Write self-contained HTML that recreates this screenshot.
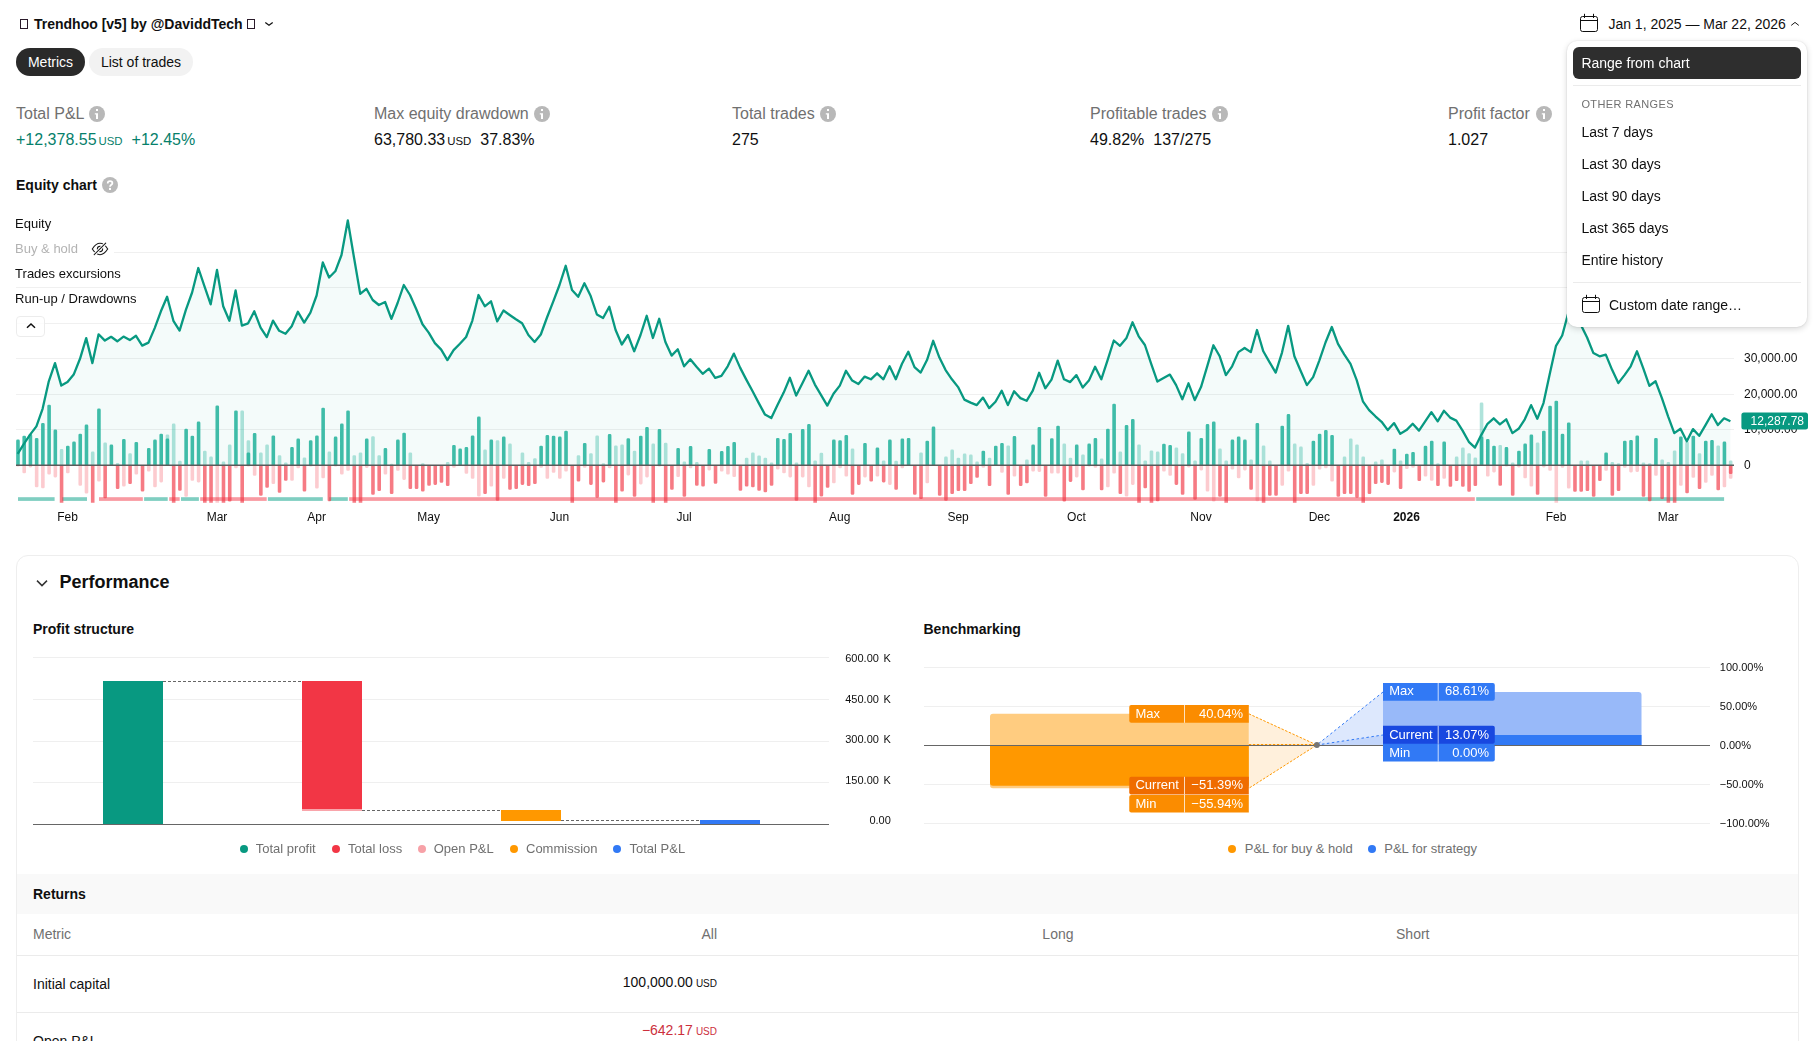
<!DOCTYPE html>
<html lang="en"><head><meta charset="utf-8"><title>Strategy report</title>
<style>
html,body{margin:0;padding:0;background:#fff;}
body{width:1815px;height:1041px;position:relative;overflow:hidden;font-family:"Liberation Sans",sans-serif;color:#0f0f0f;}
.t{position:absolute;white-space:nowrap;line-height:20px;}
.abs{position:absolute;}
svg{position:absolute;overflow:visible;}
.gl{will-change:transform;}
.pill{position:absolute;top:48px;height:28px;border-radius:14px;font-size:14px;line-height:28px;text-align:center;}
.sep{position:absolute;height:1px;background:#ebebeb;}
.menu{position:absolute;left:1567px;top:41px;width:240px;height:286px;border-radius:10px;background:#fff;box-shadow:0 2px 6px rgba(0,0,0,.16),0 0 2px rgba(0,0,0,.12);}
.card{position:absolute;left:16px;top:555px;width:1783px;height:520px;box-sizing:border-box;border:1px solid #eeeeee;border-radius:12px;}
.dot{position:absolute;width:8px;height:8px;border-radius:50%;}
</style></head><body>

<svg style="left:19px;top:18px" width="11" height="13" viewBox="0 0 11 13"><rect x="1.5" y="1.5" width="7" height="9" fill="none" stroke="#2a1a2a" stroke-width="1"/></svg>
<div class="t " style="top:14.00px;font-size:14px;color:#0f0f0f;font-weight:700;left:34.00px;">Trendhoo [v5] by @DaviddTech</div>
<svg style="left:246px;top:18px" width="11" height="13" viewBox="0 0 11 13"><rect x="1.5" y="1.5" width="7" height="9" fill="none" stroke="#2a1a2a" stroke-width="1"/></svg>
<svg style="left:264px;top:20px" width="10" height="8" viewBox="0 0 10 8"><path d="M1.3 2.5 L5 5.3 L8.7 2.5" fill="none" stroke="#0f0f0f" stroke-width="1.2"/></svg>
<svg style="left:1579px;top:13px" width="20" height="20" viewBox="0 0 20 20"><rect x="1.5" y="3.5" width="17" height="15" rx="2.1" fill="none" stroke="#0f0f0f" stroke-width="1"/><path d="M1.5 7.5H18.5M5.5 1.2V4.6M14.5 1.2V4.6" fill="none" stroke="#0f0f0f" stroke-width="1" stroke-linecap="round"/></svg>
<div class="t " style="top:14.00px;font-size:14px;color:#0f0f0f;left:1608.40px;">Jan 1, 2025 — Mar 22, 2026</div>
<svg style="left:1790px;top:20px" width="10" height="8" viewBox="0 0 10 8"><path d="M1.2 5.4 L5 2.4 L8.8 5.4" fill="none" stroke="#1a1a1a" stroke-width="1"/></svg>
<div class="pill" style="left:16px;width:69px;background:#2a2a2a;color:#fff">Metrics</div>
<div class="pill" style="left:89px;width:104px;background:#f2f2f2;color:#0f0f0f">List of trades</div>
<div class="t " style="top:103.50px;font-size:16px;color:#707070;left:16.00px;">Total P&amp;L</div>
<svg width="16" height="16" viewBox="0 0 16 16" style="left:89px;top:106px"><circle cx="8" cy="8" r="8" fill="#b8b8b8"/><path d="M7 3H9V5H7ZM5.8 7.2H9V13H7V8.4H5.8Z" fill="#fff"/></svg>
<div class="t " style="top:103.50px;font-size:16px;color:#707070;left:374.00px;">Max equity drawdown</div>
<svg width="16" height="16" viewBox="0 0 16 16" style="left:533.5px;top:106px"><circle cx="8" cy="8" r="8" fill="#b8b8b8"/><path d="M7 3H9V5H7ZM5.8 7.2H9V13H7V8.4H5.8Z" fill="#fff"/></svg>
<div class="t " style="top:103.50px;font-size:16px;color:#707070;left:732.00px;">Total trades</div>
<svg width="16" height="16" viewBox="0 0 16 16" style="left:819.5px;top:106px"><circle cx="8" cy="8" r="8" fill="#b8b8b8"/><path d="M7 3H9V5H7ZM5.8 7.2H9V13H7V8.4H5.8Z" fill="#fff"/></svg>
<div class="t " style="top:103.50px;font-size:16px;color:#707070;left:1090.00px;">Profitable trades</div>
<svg width="16" height="16" viewBox="0 0 16 16" style="left:1211.5px;top:106px"><circle cx="8" cy="8" r="8" fill="#b8b8b8"/><path d="M7 3H9V5H7ZM5.8 7.2H9V13H7V8.4H5.8Z" fill="#fff"/></svg>
<div class="t " style="top:103.50px;font-size:16px;color:#707070;left:1448.00px;">Profit factor</div>
<svg width="16" height="16" viewBox="0 0 16 16" style="left:1535.5px;top:106px"><circle cx="8" cy="8" r="8" fill="#b8b8b8"/><path d="M7 3H9V5H7ZM5.8 7.2H9V13H7V8.4H5.8Z" fill="#fff"/></svg>
<div class="t " style="top:129.50px;font-size:16px;color:#06806b;left:16.00px;">+12,378.55<span style="font-size:11.4px;margin-left:2px">USD</span><span style="margin-left:9px">+12.45%</span></div>
<div class="t " style="top:129.50px;font-size:16px;color:#0f0f0f;left:374.00px;">63,780.33<span style="font-size:11.4px;margin-left:2px">USD</span><span style="margin-left:9px">37.83%</span></div>
<div class="t " style="top:129.50px;font-size:16px;color:#0f0f0f;left:732.00px;">275</div>
<div class="t " style="top:129.50px;font-size:16px;color:#0f0f0f;left:1090.00px;">49.82%<span style="margin-left:9px">137/275</span></div>
<div class="t " style="top:129.50px;font-size:16px;color:#0f0f0f;left:1448.00px;">1.027</div>
<div class="t " style="top:175.00px;font-size:14px;color:#0f0f0f;font-weight:700;left:16.00px;">Equity chart</div>
<svg width="16" height="16" viewBox="0 0 16 16" style="left:102px;top:177px"><circle cx="8" cy="8" r="8" fill="#b9b9b9"/><path d="M5.7 6.4C5.7 4.9 6.8 4.2 8 4.2S10.4 4.9 10.4 6.2C10.4 7.8 8 7.7 8 9.7" fill="none" stroke="#fff" stroke-width="1.7"/><rect x="7" y="10.9" width="2" height="2.1" fill="#fff"/></svg>
<svg class="gl" style="left:0;top:200px" width="1815" height="340" viewBox="0 200 1815 340">
<defs><clipPath id="cd"><rect x="0" y="465.05" width="1815" height="37.7"/></clipPath></defs>
<path d="M114 252.5H1734" stroke="#f0f0f0" stroke-width="1"/>
<path d="M16 287.5H1734" stroke="#f0f0f0" stroke-width="1"/>
<path d="M16 323.5H1734" stroke="#f0f0f0" stroke-width="1"/>
<path d="M16 358.5H1734" stroke="#f0f0f0" stroke-width="1"/>
<path d="M16 394.5H1734" stroke="#f0f0f0" stroke-width="1"/>
<path d="M16 429.5H1734" stroke="#f0f0f0" stroke-width="1"/>
<path d="M17.7 453.9 L23.9 443.9 L30.1 434.6 L36.4 426.4 L42.6 408.8 L48.8 381.3 L55.0 363.1 L61.3 385.6 L67.5 382.1 L73.7 374.6 L80.0 358.8 L86.2 338.1 L92.4 363.1 L98.6 334.3 L104.9 340.6 L111.1 336.8 L117.3 341.3 L123.5 336.6 L129.8 340.1 L136.0 335.8 L142.2 345.6 L148.5 342.6 L154.7 328.1 L160.9 311.3 L167.1 296.8 L173.4 320.8 L179.6 330.6 L185.8 310.1 L192.1 292.5 L198.3 268.0 L204.5 286.3 L210.7 304.3 L217.0 270.0 L223.2 306.3 L229.4 320.8 L235.6 290.5 L241.9 325.6 L248.1 323.3 L254.3 311.3 L260.6 327.6 L266.8 337.1 L273.0 320.6 L279.2 330.8 L285.5 333.8 L291.7 326.3 L297.9 311.8 L304.2 322.6 L310.4 312.6 L316.6 295.5 L322.8 262.5 L329.1 277.5 L335.3 271.3 L341.5 255.0 L347.8 220.5 L354.0 257.5 L360.2 293.8 L366.4 288.8 L372.7 300.0 L378.9 305.0 L385.1 302.0 L391.4 318.8 L397.6 303.0 L403.8 285.0 L410.0 295.0 L416.3 309.3 L422.5 324.3 L428.7 332.6 L434.9 343.1 L441.2 349.6 L447.4 360.1 L453.6 350.1 L459.9 343.8 L466.1 337.0 L472.3 320.8 L478.5 295.0 L484.8 306.3 L491.0 301.3 L497.2 321.3 L503.5 310.5 L509.7 315.0 L515.9 319.3 L522.1 323.3 L528.4 335.0 L534.6 342.0 L540.8 334.5 L547.0 317.5 L553.3 301.3 L559.5 285.0 L565.7 265.8 L572.0 290.0 L578.2 296.8 L584.4 283.3 L590.6 295.8 L596.9 314.5 L603.1 318.0 L609.3 306.8 L615.6 330.0 L621.8 344.5 L628.0 335.0 L634.2 351.3 L640.5 335.0 L646.7 315.8 L652.9 338.0 L659.2 318.8 L665.4 342.0 L671.6 355.6 L677.8 349.3 L684.1 366.3 L690.3 359.3 L696.5 366.8 L702.7 373.8 L709.0 368.6 L715.2 377.8 L721.4 375.8 L727.7 366.3 L733.9 353.6 L740.1 367.6 L746.3 379.6 L752.6 391.3 L758.8 403.1 L765.0 414.6 L771.3 418.1 L777.5 405.1 L783.7 392.6 L789.9 377.8 L796.2 395.6 L802.4 383.3 L808.6 370.8 L814.9 384.6 L821.1 395.1 L827.3 405.6 L833.5 393.8 L839.8 385.6 L846.0 370.8 L852.2 380.6 L858.4 384.1 L864.7 376.6 L870.9 379.3 L877.1 373.3 L883.4 379.3 L889.6 366.3 L895.8 379.3 L902.0 363.8 L908.3 351.8 L914.5 367.1 L920.7 372.6 L927.0 360.1 L933.2 340.8 L939.4 357.6 L945.6 370.1 L951.9 379.3 L958.1 387.1 L964.3 399.6 L970.6 402.6 L976.8 405.1 L983.0 397.6 L989.2 408.1 L995.5 401.8 L1001.7 390.8 L1007.9 405.1 L1014.1 391.3 L1020.4 398.1 L1026.6 400.8 L1032.8 390.6 L1039.1 372.8 L1045.3 388.3 L1051.5 379.6 L1057.7 360.6 L1064.0 379.3 L1070.2 382.1 L1076.4 375.1 L1082.7 387.6 L1088.9 380.6 L1095.1 366.8 L1101.3 379.3 L1107.6 360.1 L1113.8 340.5 L1120.0 345.8 L1126.3 338.3 L1132.5 322.3 L1138.7 336.3 L1144.9 345.0 L1151.2 363.8 L1157.4 381.6 L1163.6 378.1 L1169.9 374.6 L1176.1 385.1 L1182.3 399.3 L1188.5 383.3 L1194.8 400.1 L1201.0 387.1 L1207.2 366.3 L1213.4 345.3 L1219.7 356.3 L1225.9 375.1 L1232.1 366.3 L1238.4 352.1 L1244.6 348.0 L1250.8 352.1 L1257.0 330.0 L1263.3 351.3 L1269.5 362.1 L1275.7 372.6 L1282.0 352.6 L1288.2 325.8 L1294.4 356.3 L1300.6 370.8 L1306.9 385.1 L1313.1 377.1 L1319.3 360.6 L1325.5 342.5 L1331.8 327.0 L1338.0 343.8 L1344.2 354.3 L1350.5 363.8 L1356.7 380.1 L1362.9 401.3 L1369.1 410.1 L1375.4 416.3 L1381.6 421.8 L1387.8 430.1 L1394.1 423.1 L1400.3 433.8 L1406.5 430.1 L1412.7 423.8 L1419.0 430.6 L1425.2 421.3 L1431.4 412.1 L1437.7 421.3 L1443.9 410.8 L1450.1 417.6 L1456.3 420.6 L1462.6 430.6 L1468.8 441.8 L1475.0 447.6 L1481.2 435.1 L1487.5 423.8 L1493.7 418.3 L1499.9 424.3 L1506.2 419.3 L1512.4 433.1 L1518.6 428.8 L1524.8 419.3 L1531.1 405.1 L1537.3 418.8 L1543.5 403.1 L1549.8 373.8 L1556.0 345.8 L1562.2 335.5 L1568.4 312.5 L1574.7 311.3 L1580.9 325.0 L1587.1 337.5 L1593.4 353.1 L1599.6 356.3 L1605.8 354.6 L1612.0 369.6 L1618.3 383.1 L1624.5 375.1 L1630.7 366.3 L1637.0 351.3 L1643.2 368.1 L1649.4 385.8 L1655.6 381.3 L1661.9 398.1 L1668.1 416.3 L1674.3 433.1 L1680.5 428.8 L1686.8 441.3 L1693.0 429.1 L1699.2 435.8 L1705.5 425.1 L1711.7 414.3 L1717.9 425.1 L1724.1 418.3 L1730.4 421.3 L1730.4 465.05 L17.7 465.05 Z" fill="rgba(8,153,129,0.045)"/>
<g><path fill="rgba(38,180,157,0.37)" d="M59.77 465.05V450.4Q59.77 449.1 61.07 449.1H62.07Q63.37 449.1 63.37 450.4V465.05ZM90.91 465.05V452.9Q90.91 451.6 92.21 451.6H93.21Q94.51 451.6 94.51 452.9V465.05ZM103.36 465.05V443.7Q103.36 442.4 104.66 442.4H105.66Q106.96 442.4 106.96 443.7V465.05ZM115.82 465.05V464.2Q115.82 462.9 117.12 462.9H118.12Q119.42 462.9 119.42 464.2V465.05ZM128.27 465.05V454.5Q128.27 453.2 129.57 453.2H130.57Q131.87 453.2 131.87 454.5V465.05ZM165.64 465.05V435.7Q165.64 434.4 166.94 434.4H167.94Q169.24 434.4 169.24 435.7V465.05ZM171.87 465.05V424.9Q171.87 423.6 173.17 423.6H174.17Q175.47 423.6 175.47 424.9V465.05ZM178.10 465.05V462.0Q178.10 460.7 179.40 460.7H180.40Q181.70 460.7 181.70 462.0V465.05ZM203.01 465.05V452.0Q203.01 450.7 204.31 450.7H205.31Q206.61 450.7 206.61 452.0V465.05ZM209.24 465.05V457.9Q209.24 456.6 210.54 456.6H211.54Q212.84 456.6 212.84 457.9V465.05ZM221.69 465.05V462.9Q221.69 461.6 222.99 461.6H223.99Q225.29 461.6 225.29 462.9V465.05ZM227.92 465.05V445.9Q227.92 444.6 229.22 444.6H230.22Q231.52 444.6 231.52 445.9V465.05ZM240.38 465.05V411.8Q240.38 410.5 241.68 410.5H242.68Q243.98 410.5 243.98 411.8V465.05ZM246.61 465.05V441.6Q246.61 440.3 247.91 440.3H248.91Q250.21 440.3 250.21 441.6V465.05ZM259.06 465.05V453.7Q259.06 452.4 260.36 452.4H261.36Q262.66 452.4 262.66 453.7V465.05ZM265.29 465.05V445.7Q265.29 444.4 266.59 444.4H267.59Q268.89 444.4 268.89 445.7V465.05ZM277.75 465.05V456.5Q277.75 455.2 279.05 455.2H280.05Q281.35 455.2 281.35 456.5V465.05ZM283.97 465.05V463.7Q283.97 462.4 285.27 462.4H286.27Q287.57 462.4 287.57 463.7V465.05ZM302.66 465.05V458.7Q302.66 457.4 303.96 457.4H304.96Q306.26 457.4 306.26 458.7V465.05ZM327.57 465.05V452.9Q327.57 451.6 328.87 451.6H329.87Q331.17 451.6 331.17 452.9V465.05ZM352.48 465.05V456.5Q352.48 455.2 353.78 455.2H354.78Q356.08 455.2 356.08 456.5V465.05ZM358.71 465.05V453.7Q358.71 452.4 360.01 452.4H361.01Q362.31 452.4 362.31 453.7V465.05ZM371.17 465.05V437.6Q371.17 436.3 372.47 436.3H373.47Q374.77 436.3 374.77 437.6V465.05ZM377.39 465.05V456.5Q377.39 455.2 378.69 455.2H379.69Q380.99 455.2 380.99 456.5V465.05ZM389.85 465.05V465.1Q389.85 463.8 391.15 463.8H392.15Q393.45 463.8 393.45 465.1V465.05ZM408.53 465.05V453.7Q408.53 452.4 409.83 452.4H410.83Q412.13 452.4 412.13 453.7V465.05ZM420.99 465.05V464.5Q420.99 463.2 422.29 463.2H423.29Q424.59 463.2 424.59 464.5V465.05ZM445.90 465.05V463.4Q445.90 462.1 447.20 462.1H448.20Q449.50 462.1 449.50 463.4V465.05ZM483.27 465.05V450.7Q483.27 449.4 484.57 449.4H485.57Q486.87 449.4 486.87 450.7V465.05ZM495.73 465.05V441.6Q495.73 440.3 497.03 440.3H498.03Q499.33 440.3 499.33 441.6V465.05ZM508.18 465.05V444.9Q508.18 443.6 509.48 443.6H510.48Q511.78 443.6 511.78 444.9V465.05ZM520.64 465.05V453.7Q520.64 452.4 521.94 452.4H522.94Q524.24 452.4 524.24 453.7V465.05ZM526.87 465.05V463.4Q526.87 462.1 528.17 462.1H529.17Q530.47 462.1 530.47 463.4V465.05ZM533.09 465.05V459.5Q533.09 458.2 534.39 458.2H535.39Q536.69 458.2 536.69 459.5V465.05ZM576.69 465.05V456.5Q576.69 455.2 577.99 455.2H578.99Q580.29 455.2 580.29 456.5V465.05ZM589.15 465.05V454.5Q589.15 453.2 590.45 453.2H591.45Q592.75 453.2 592.75 454.5V465.05ZM595.37 465.05V436.7Q595.37 435.4 596.67 435.4H597.67Q598.97 435.4 598.97 436.7V465.05ZM601.60 465.05V464.5Q601.60 463.2 602.90 463.2H603.90Q605.20 463.2 605.20 464.5V465.05ZM614.06 465.05V446.7Q614.06 445.4 615.36 445.4H616.36Q617.66 445.4 617.66 446.7V465.05ZM620.29 465.05V445.7Q620.29 444.4 621.59 444.4H622.59Q623.89 444.4 623.89 445.7V465.05ZM632.74 465.05V452.0Q632.74 450.7 634.04 450.7H635.04Q636.34 450.7 636.34 452.0V465.05ZM651.43 465.05V444.9Q651.43 443.6 652.73 443.6H653.73Q655.03 443.6 655.03 444.9V465.05ZM663.88 465.05V444.1Q663.88 442.8 665.18 442.8H666.18Q667.48 442.8 667.48 444.1V465.05ZM682.57 465.05V462.9Q682.57 461.6 683.87 461.6H684.87Q686.17 461.6 686.17 462.9V465.05ZM695.02 465.05V463.4Q695.02 462.1 696.32 462.1H697.32Q698.62 462.1 698.62 463.4V465.05ZM744.85 465.05V459.0Q744.85 457.7 746.15 457.7H747.15Q748.45 457.7 748.45 459.0V465.05ZM751.07 465.05V453.7Q751.07 452.4 752.37 452.4H753.37Q754.67 452.4 754.67 453.7V465.05ZM757.30 465.05V456.7Q757.30 455.4 758.60 455.4H759.60Q760.90 455.4 760.90 456.7V465.05ZM763.53 465.05V459.0Q763.53 457.7 764.83 457.7H765.83Q767.13 457.7 767.13 459.0V465.05ZM769.76 465.05V463.7Q769.76 462.4 771.06 462.4H772.06Q773.36 462.4 773.36 463.7V465.05ZM794.67 465.05V463.7Q794.67 462.4 795.97 462.4H796.97Q798.27 462.4 798.27 463.7V465.05ZM813.35 465.05V461.7Q813.35 460.4 814.65 460.4H815.65Q816.95 460.4 816.95 461.7V465.05ZM819.58 465.05V454.0Q819.58 452.7 820.88 452.7H821.88Q823.18 452.7 823.18 454.0V465.05ZM850.72 465.05V449.9Q850.72 448.6 852.02 448.6H853.02Q854.32 448.6 854.32 449.9V465.05ZM881.86 465.05V461.7Q881.86 460.4 883.16 460.4H884.16Q885.46 460.4 885.46 461.7V465.05ZM894.32 465.05V462.0Q894.32 460.7 895.62 460.7H896.62Q897.92 460.7 897.92 462.0V465.05ZM919.23 465.05V453.7Q919.23 452.4 920.53 452.4H921.53Q922.83 452.4 922.83 453.7V465.05ZM944.14 465.05V457.9Q944.14 456.6 945.44 456.6H946.44Q947.74 456.6 947.74 457.9V465.05ZM950.37 465.05V450.9Q950.37 449.6 951.67 449.6H952.67Q953.97 449.6 953.97 450.9V465.05ZM956.60 465.05V459.0Q956.60 457.7 957.90 457.7H958.90Q960.20 457.7 960.20 459.0V465.05ZM962.83 465.05V454.9Q962.83 453.6 964.13 453.6H965.13Q966.43 453.6 966.43 454.9V465.05ZM969.05 465.05V455.9Q969.05 454.6 970.35 454.6H971.35Q972.65 454.6 972.65 455.9V465.05ZM975.28 465.05V462.9Q975.28 461.6 976.58 461.6H977.58Q978.88 461.6 978.88 462.9V465.05ZM987.74 465.05V459.0Q987.74 457.7 989.04 457.7H990.04Q991.34 457.7 991.34 459.0V465.05ZM1006.42 465.05V446.7Q1006.42 445.4 1007.72 445.4H1008.72Q1010.02 445.4 1010.02 446.7V465.05ZM1025.11 465.05V460.7Q1025.11 459.4 1026.41 459.4H1027.41Q1028.71 459.4 1028.71 460.7V465.05ZM1062.47 465.05V444.9Q1062.47 443.6 1063.77 443.6H1064.77Q1066.07 443.6 1066.07 444.9V465.05ZM1068.70 465.05V459.0Q1068.70 457.7 1070.00 457.7H1071.00Q1072.30 457.7 1072.30 459.0V465.05ZM1081.16 465.05V455.7Q1081.16 454.4 1082.46 454.4H1083.46Q1084.76 454.4 1084.76 455.7V465.05ZM1099.84 465.05V459.9Q1099.84 458.6 1101.14 458.6H1102.14Q1103.44 458.6 1103.44 459.9V465.05ZM1118.53 465.05V452.9Q1118.53 451.6 1119.83 451.6H1120.83Q1122.13 451.6 1122.13 452.9V465.05ZM1137.21 465.05V445.7Q1137.21 444.4 1138.51 444.4H1139.51Q1140.81 444.4 1140.81 445.7V465.05ZM1143.44 465.05V461.7Q1143.44 460.4 1144.74 460.4H1145.74Q1147.04 460.4 1147.04 461.7V465.05ZM1149.67 465.05V451.7Q1149.67 450.4 1150.97 450.4H1151.97Q1153.27 450.4 1153.27 451.7V465.05ZM1155.89 465.05V452.9Q1155.89 451.6 1157.19 451.6H1158.19Q1159.49 451.6 1159.49 452.9V465.05ZM1174.58 465.05V448.7Q1174.58 447.4 1175.88 447.4H1176.88Q1178.18 447.4 1178.18 448.7V465.05ZM1180.81 465.05V454.5Q1180.81 453.2 1182.11 453.2H1183.11Q1184.41 453.2 1184.41 454.5V465.05ZM1193.26 465.05V461.7Q1193.26 460.4 1194.56 460.4H1195.56Q1196.86 460.4 1196.86 461.7V465.05ZM1218.17 465.05V449.9Q1218.17 448.6 1219.47 448.6H1220.47Q1221.77 448.6 1221.77 449.9V465.05ZM1224.40 465.05V461.7Q1224.40 460.4 1225.70 460.4H1226.70Q1228.00 460.4 1228.00 461.7V465.05ZM1249.31 465.05V460.7Q1249.31 459.4 1250.61 459.4H1251.61Q1252.91 459.4 1252.91 460.7V465.05ZM1261.77 465.05V446.7Q1261.77 445.4 1263.07 445.4H1264.07Q1265.37 445.4 1265.37 446.7V465.05ZM1268.00 465.05V461.7Q1268.00 460.4 1269.30 460.4H1270.30Q1271.60 460.4 1271.60 461.7V465.05ZM1292.91 465.05V444.9Q1292.91 443.6 1294.21 443.6H1295.21Q1296.51 443.6 1296.51 444.9V465.05ZM1299.14 465.05V447.9Q1299.14 446.6 1300.44 446.6H1301.44Q1302.74 446.6 1302.74 447.9V465.05ZM1305.37 465.05V464.2Q1305.37 462.9 1306.67 462.9H1307.67Q1308.97 462.9 1308.97 464.2V465.05ZM1342.73 465.05V457.9Q1342.73 456.6 1344.03 456.6H1345.03Q1346.33 456.6 1346.33 457.9V465.05ZM1348.96 465.05V439.9Q1348.96 438.6 1350.26 438.6H1351.26Q1352.56 438.6 1352.56 439.9V465.05ZM1355.19 465.05V445.7Q1355.19 444.4 1356.49 444.4H1357.49Q1358.79 444.4 1358.79 445.7V465.05ZM1361.42 465.05V457.9Q1361.42 456.6 1362.72 456.6H1363.72Q1365.02 456.6 1365.02 457.9V465.05ZM1373.87 465.05V462.9Q1373.87 461.6 1375.17 461.6H1376.17Q1377.47 461.6 1377.47 462.9V465.05ZM1380.10 465.05V460.7Q1380.10 459.4 1381.40 459.4H1382.40Q1383.70 459.4 1383.70 460.7V465.05ZM1398.79 465.05V461.7Q1398.79 460.4 1400.09 460.4H1401.09Q1402.39 460.4 1402.39 461.7V465.05ZM1436.15 465.05V464.5Q1436.15 463.2 1437.45 463.2H1438.45Q1439.75 463.2 1439.75 464.5V465.05ZM1454.84 465.05V457.9Q1454.84 456.6 1456.14 456.6H1457.14Q1458.44 456.6 1458.44 457.9V465.05ZM1461.07 465.05V448.7Q1461.07 447.4 1462.37 447.4H1463.37Q1464.67 447.4 1464.67 448.7V465.05ZM1467.29 465.05V454.5Q1467.29 453.2 1468.59 453.2H1469.59Q1470.89 453.2 1470.89 454.5V465.05ZM1473.52 465.05V458.7Q1473.52 457.4 1474.82 457.4H1475.82Q1477.12 457.4 1477.12 458.7V465.05ZM1479.75 465.05V403.8Q1479.75 402.5 1481.05 402.5H1482.05Q1483.35 402.5 1483.35 403.8V465.05ZM1498.43 465.05V446.2Q1498.43 444.9 1499.73 444.9H1500.73Q1502.03 444.9 1502.03 446.2V465.05ZM1510.89 465.05V463.7Q1510.89 462.4 1512.19 462.4H1513.19Q1514.49 462.4 1514.49 463.7V465.05ZM1535.80 465.05V443.7Q1535.80 442.4 1537.10 442.4H1538.10Q1539.40 442.4 1539.40 443.7V465.05ZM1579.40 465.05V461.7Q1579.40 460.4 1580.70 460.4H1581.70Q1583.00 460.4 1583.00 461.7V465.05ZM1585.63 465.05V461.7Q1585.63 460.4 1586.93 460.4H1587.93Q1589.23 460.4 1589.23 461.7V465.05ZM1610.54 465.05V463.4Q1610.54 462.1 1611.84 462.1H1612.84Q1614.14 462.1 1614.14 463.4V465.05ZM1616.77 465.05V464.5Q1616.77 463.2 1618.07 463.2H1619.07Q1620.37 463.2 1620.37 464.5V465.05ZM1641.68 465.05V463.7Q1641.68 462.4 1642.98 462.4H1643.98Q1645.28 462.4 1645.28 463.7V465.05ZM1647.91 465.05V464.5Q1647.91 463.2 1649.21 463.2H1650.21Q1651.51 463.2 1651.51 464.5V465.05ZM1660.36 465.05V460.7Q1660.36 459.4 1661.66 459.4H1662.66Q1663.96 459.4 1663.96 460.7V465.05ZM1666.59 465.05V463.4Q1666.59 462.1 1667.89 462.1H1668.89Q1670.19 462.1 1670.19 463.4V465.05ZM1672.82 465.05V451.7Q1672.82 450.4 1674.12 450.4H1675.12Q1676.42 450.4 1676.42 451.7V465.05ZM1685.27 465.05V442.9Q1685.27 441.6 1686.57 441.6H1687.57Q1688.87 441.6 1688.87 442.9V465.05ZM1697.73 465.05V454.5Q1697.73 453.2 1699.03 453.2H1700.03Q1701.33 453.2 1701.33 454.5V465.05ZM1716.41 465.05V446.7Q1716.41 445.4 1717.71 445.4H1718.71Q1720.01 445.4 1720.01 446.7V465.05ZM1728.87 465.05V461.7Q1728.87 460.4 1730.17 460.4H1731.17Q1732.47 460.4 1732.47 461.7V465.05Z"/><path fill="rgba(38,180,157,0.88)" d="M16.17 465.05V440.9Q16.17 439.6 17.47 439.6H18.47Q19.77 439.6 19.77 440.9V465.05ZM22.40 465.05V437.1Q22.40 435.8 23.70 435.8H24.70Q26.00 435.8 26.00 437.1V465.05ZM28.63 465.05V435.4Q28.63 434.1 29.93 434.1H30.93Q32.23 434.1 32.23 435.4V465.05ZM34.85 465.05V439.2Q34.85 437.9 36.15 437.9H37.15Q38.45 437.9 38.45 439.2V465.05ZM41.08 465.05V424.3Q41.08 423.0 42.38 423.0H43.38Q44.68 423.0 44.68 424.3V465.05ZM47.31 465.05V406.0Q47.31 404.7 48.61 404.7H49.61Q50.91 404.7 50.91 406.0V465.05ZM53.54 465.05V430.9Q53.54 429.6 54.84 429.6H55.84Q57.14 429.6 57.14 430.9V465.05ZM65.99 465.05V447.0Q65.99 445.7 67.29 445.7H68.29Q69.59 445.7 69.59 447.0V465.05ZM72.22 465.05V442.9Q72.22 441.6 73.52 441.6H74.52Q75.82 441.6 75.82 442.9V465.05ZM78.45 465.05V435.1Q78.45 433.8 79.75 433.8H80.75Q82.05 433.8 82.05 435.1V465.05ZM84.68 465.05V425.9Q84.68 424.6 85.98 424.6H86.98Q88.28 424.6 88.28 425.9V465.05ZM97.13 465.05V409.9Q97.13 408.6 98.43 408.6H99.43Q100.73 408.6 100.73 409.9V465.05ZM109.59 465.05V445.9Q109.59 444.6 110.89 444.6H111.89Q113.19 444.6 113.19 445.9V465.05ZM122.05 465.05V440.4Q122.05 439.1 123.35 439.1H124.35Q125.65 439.1 125.65 440.4V465.05ZM134.50 465.05V443.2Q134.50 441.9 135.80 441.9H136.80Q138.10 441.9 138.10 443.2V465.05ZM146.96 465.05V449.2Q146.96 447.9 148.26 447.9H149.26Q150.56 447.9 150.56 449.2V465.05ZM153.19 465.05V440.9Q153.19 439.6 154.49 439.6H155.49Q156.79 439.6 156.79 440.9V465.05ZM159.41 465.05V435.1Q159.41 433.8 160.71 433.8H161.71Q163.01 433.8 163.01 435.1V465.05ZM165.64 465.05V439.9Q165.64 438.6 166.94 438.6H167.94Q169.24 438.6 169.24 439.9V465.05ZM184.33 465.05V430.1Q184.33 428.8 185.63 428.8H186.63Q187.93 428.8 187.93 430.1V465.05ZM190.55 465.05V437.1Q190.55 435.8 191.85 435.8H192.85Q194.15 435.8 194.15 437.1V465.05ZM196.78 465.05V422.9Q196.78 421.6 198.08 421.6H199.08Q200.38 421.6 200.38 422.9V465.05ZM215.47 465.05V406.8Q215.47 405.5 216.77 405.5H217.77Q219.07 405.5 219.07 406.8V465.05ZM234.15 465.05V411.8Q234.15 410.5 235.45 410.5H236.45Q237.75 410.5 237.75 411.8V465.05ZM246.61 465.05V453.7Q246.61 452.4 247.91 452.4H248.91Q250.21 452.4 250.21 453.7V465.05ZM252.83 465.05V434.2Q252.83 432.9 254.13 432.9H255.13Q256.43 432.9 256.43 434.2V465.05ZM271.52 465.05V436.7Q271.52 435.4 272.82 435.4H273.82Q275.12 435.4 275.12 436.7V465.05ZM290.20 465.05V448.2Q290.20 446.9 291.50 446.9H292.50Q293.80 446.9 293.80 448.2V465.05ZM296.43 465.05V439.9Q296.43 438.6 297.73 438.6H298.73Q300.03 438.6 300.03 439.9V465.05ZM308.89 465.05V441.6Q308.89 440.3 310.19 440.3H311.19Q312.49 440.3 312.49 441.6V465.05ZM315.11 465.05V436.7Q315.11 435.4 316.41 435.4H317.41Q318.71 435.4 318.71 436.7V465.05ZM321.34 465.05V409.1Q321.34 407.8 322.64 407.8H323.64Q324.94 407.8 324.94 409.1V465.05ZM333.80 465.05V437.9Q333.80 436.6 335.10 436.6H336.10Q337.40 436.6 337.40 437.9V465.05ZM340.03 465.05V424.9Q340.03 423.6 341.33 423.6H342.33Q343.63 423.6 343.63 424.9V465.05ZM346.25 465.05V411.8Q346.25 410.5 347.55 410.5H348.55Q349.85 410.5 349.85 411.8V465.05ZM364.94 465.05V439.9Q364.94 438.6 366.24 438.6H367.24Q368.54 438.6 368.54 439.9V465.05ZM383.62 465.05V449.2Q383.62 447.9 384.92 447.9H385.92Q387.22 447.9 387.22 449.2V465.05ZM396.08 465.05V440.9Q396.08 439.6 397.38 439.6H398.38Q399.68 439.6 399.68 440.9V465.05ZM402.31 465.05V434.1Q402.31 432.8 403.61 432.8H404.61Q405.91 432.8 405.91 434.1V465.05ZM452.13 465.05V446.2Q452.13 444.9 453.43 444.9H454.43Q455.73 444.9 455.73 446.2V465.05ZM458.36 465.05V449.9Q458.36 448.6 459.66 448.6H460.66Q461.96 448.6 461.96 449.9V465.05ZM464.59 465.05V448.2Q464.59 446.9 465.89 446.9H466.89Q468.19 446.9 468.19 448.2V465.05ZM470.81 465.05V436.7Q470.81 435.4 472.11 435.4H473.11Q474.41 435.4 474.41 436.7V465.05ZM477.04 465.05V417.9Q477.04 416.6 478.34 416.6H479.34Q480.64 416.6 480.64 417.9V465.05ZM489.50 465.05V440.9Q489.50 439.6 490.80 439.6H491.80Q493.10 439.6 493.10 440.9V465.05ZM501.95 465.05V437.9Q501.95 436.6 503.25 436.6H504.25Q505.55 436.6 505.55 437.9V465.05ZM539.32 465.05V447.0Q539.32 445.7 540.62 445.7H541.62Q542.92 445.7 542.92 447.0V465.05ZM545.55 465.05V436.2Q545.55 434.9 546.85 434.9H547.85Q549.15 434.9 549.15 436.2V465.05ZM551.78 465.05V437.1Q551.78 435.8 553.08 435.8H554.08Q555.38 435.8 555.38 437.1V465.05ZM558.01 465.05V437.9Q558.01 436.6 559.31 436.6H560.31Q561.61 436.6 561.61 437.9V465.05ZM564.23 465.05V432.1Q564.23 430.8 565.53 430.8H566.53Q567.83 430.8 567.83 432.1V465.05ZM582.92 465.05V444.2Q582.92 442.9 584.22 442.9H585.22Q586.52 442.9 586.52 444.2V465.05ZM607.83 465.05V435.4Q607.83 434.1 609.13 434.1H610.13Q611.43 434.1 611.43 435.4V465.05ZM626.51 465.05V439.6Q626.51 438.3 627.81 438.3H628.81Q630.11 438.3 630.11 439.6V465.05ZM638.97 465.05V437.1Q638.97 435.8 640.27 435.8H641.27Q642.57 435.8 642.57 437.1V465.05ZM645.20 465.05V428.2Q645.20 426.9 646.50 426.9H647.50Q648.80 426.9 648.80 428.2V465.05ZM657.65 465.05V430.4Q657.65 429.1 658.95 429.1H659.95Q661.25 429.1 661.25 430.4V465.05ZM676.34 465.05V449.2Q676.34 447.9 677.64 447.9H678.64Q679.94 447.9 679.94 449.2V465.05ZM688.79 465.05V447.4Q688.79 446.1 690.09 446.1H691.09Q692.39 446.1 692.39 447.4V465.05ZM707.48 465.05V450.4Q707.48 449.1 708.78 449.1H709.78Q711.08 449.1 711.08 450.4V465.05ZM719.93 465.05V452.4Q719.93 451.1 721.23 451.1H722.23Q723.53 451.1 723.53 452.4V465.05ZM726.16 465.05V447.4Q726.16 446.1 727.46 446.1H728.46Q729.76 446.1 729.76 447.4V465.05ZM732.39 465.05V443.4Q732.39 442.1 733.69 442.1H734.69Q735.99 442.1 735.99 443.4V465.05ZM775.99 465.05V439.2Q775.99 437.9 777.29 437.9H778.29Q779.59 437.9 779.59 439.2V465.05ZM782.21 465.05V440.4Q782.21 439.1 783.51 439.1H784.51Q785.81 439.1 785.81 440.4V465.05ZM788.44 465.05V434.2Q788.44 432.9 789.74 432.9H790.74Q792.04 432.9 792.04 434.2V465.05ZM800.90 465.05V430.4Q800.90 429.1 802.20 429.1H803.20Q804.50 429.1 804.50 430.4V465.05ZM807.13 465.05V425.4Q807.13 424.1 808.43 424.1H809.43Q810.73 424.1 810.73 425.4V465.05ZM832.04 465.05V440.9Q832.04 439.6 833.34 439.6H834.34Q835.64 439.6 835.64 440.9V465.05ZM838.27 465.05V441.6Q838.27 440.3 839.57 440.3H840.57Q841.87 440.3 841.87 441.6V465.05ZM844.49 465.05V436.2Q844.49 434.9 845.79 434.9H846.79Q848.09 434.9 848.09 436.2V465.05ZM863.18 465.05V444.2Q863.18 442.9 864.48 442.9H865.48Q866.78 442.9 866.78 444.2V465.05ZM875.63 465.05V448.7Q875.63 447.4 876.93 447.4H877.93Q879.23 447.4 879.23 448.7V465.05ZM888.09 465.05V440.9Q888.09 439.6 889.39 439.6H890.39Q891.69 439.6 891.69 440.9V465.05ZM900.55 465.05V439.9Q900.55 438.6 901.85 438.6H902.85Q904.15 438.6 904.15 439.9V465.05ZM906.77 465.05V439.2Q906.77 437.9 908.07 437.9H909.07Q910.37 437.9 910.37 439.2V465.05ZM925.46 465.05V442.1Q925.46 440.8 926.76 440.8H927.76Q929.06 440.8 929.06 442.1V465.05ZM931.69 465.05V427.9Q931.69 426.6 932.99 426.6H933.99Q935.29 426.6 935.29 427.9V465.05ZM981.51 465.05V452.0Q981.51 450.7 982.81 450.7H983.81Q985.11 450.7 985.11 452.0V465.05ZM993.97 465.05V447.0Q993.97 445.7 995.27 445.7H996.27Q997.57 445.7 997.57 447.0V465.05ZM1000.19 465.05V444.2Q1000.19 442.9 1001.49 442.9H1002.49Q1003.79 442.9 1003.79 444.2V465.05ZM1012.65 465.05V437.4Q1012.65 436.1 1013.95 436.1H1014.95Q1016.25 436.1 1016.25 437.4V465.05ZM1031.33 465.05V445.9Q1031.33 444.6 1032.63 444.6H1033.63Q1034.93 444.6 1034.93 445.9V465.05ZM1037.56 465.05V428.2Q1037.56 426.9 1038.86 426.9H1039.86Q1041.16 426.9 1041.16 428.2V465.05ZM1050.02 465.05V439.6Q1050.02 438.3 1051.32 438.3H1052.32Q1053.62 438.3 1053.62 439.6V465.05ZM1056.25 465.05V427.1Q1056.25 425.8 1057.55 425.8H1058.55Q1059.85 425.8 1059.85 427.1V465.05ZM1074.93 465.05V445.9Q1074.93 444.6 1076.23 444.6H1077.23Q1078.53 444.6 1078.53 445.9V465.05ZM1087.39 465.05V444.9Q1087.39 443.6 1088.69 443.6H1089.69Q1090.99 443.6 1090.99 444.9V465.05ZM1093.61 465.05V439.2Q1093.61 437.9 1094.91 437.9H1095.91Q1097.21 437.9 1097.21 439.2V465.05ZM1106.07 465.05V430.1Q1106.07 428.8 1107.37 428.8H1108.37Q1109.67 428.8 1109.67 430.1V465.05ZM1112.30 465.05V405.0Q1112.30 403.7 1113.60 403.7H1114.60Q1115.90 403.7 1115.90 405.0V465.05ZM1124.75 465.05V426.3Q1124.75 425.0 1126.05 425.0H1127.05Q1128.35 425.0 1128.35 426.3V465.05ZM1130.98 465.05V420.4Q1130.98 419.1 1132.28 419.1H1133.28Q1134.58 419.1 1134.58 420.4V465.05ZM1162.12 465.05V445.1Q1162.12 443.8 1163.42 443.8H1164.42Q1165.72 443.8 1165.72 445.1V465.05ZM1168.35 465.05V446.2Q1168.35 444.9 1169.65 444.9H1170.65Q1171.95 444.9 1171.95 446.2V465.05ZM1187.03 465.05V432.9Q1187.03 431.6 1188.33 431.6H1189.33Q1190.63 431.6 1190.63 432.9V465.05ZM1199.49 465.05V439.2Q1199.49 437.9 1200.79 437.9H1201.79Q1203.09 437.9 1203.09 439.2V465.05ZM1205.72 465.05V425.4Q1205.72 424.1 1207.02 424.1H1208.02Q1209.32 424.1 1209.32 425.4V465.05ZM1211.95 465.05V422.9Q1211.95 421.6 1213.25 421.6H1214.25Q1215.55 421.6 1215.55 422.9V465.05ZM1230.63 465.05V440.9Q1230.63 439.6 1231.93 439.6H1232.93Q1234.23 439.6 1234.23 440.9V465.05ZM1236.86 465.05V437.9Q1236.86 436.6 1238.16 436.6H1239.16Q1240.46 436.6 1240.46 437.9V465.05ZM1243.09 465.05V440.9Q1243.09 439.6 1244.39 439.6H1245.39Q1246.69 439.6 1246.69 440.9V465.05ZM1255.54 465.05V424.3Q1255.54 423.0 1256.84 423.0H1257.84Q1259.14 423.0 1259.14 424.3V465.05ZM1280.45 465.05V427.1Q1280.45 425.8 1281.75 425.8H1282.75Q1284.05 425.8 1284.05 427.1V465.05ZM1286.68 465.05V415.4Q1286.68 414.1 1287.98 414.1H1288.98Q1290.28 414.1 1290.28 415.4V465.05ZM1311.59 465.05V442.1Q1311.59 440.8 1312.89 440.8H1313.89Q1315.19 440.8 1315.19 442.1V465.05ZM1317.82 465.05V435.1Q1317.82 433.8 1319.12 433.8H1320.12Q1321.42 433.8 1321.42 435.1V465.05ZM1324.05 465.05V431.2Q1324.05 429.9 1325.35 429.9H1326.35Q1327.65 429.9 1327.65 431.2V465.05ZM1330.28 465.05V436.2Q1330.28 434.9 1331.58 434.9H1332.58Q1333.88 434.9 1333.88 436.2V465.05ZM1392.56 465.05V450.0Q1392.56 448.7 1393.86 448.7H1394.86Q1396.16 448.7 1396.16 450.0V465.05ZM1405.01 465.05V455.0Q1405.01 453.7 1406.31 453.7H1407.31Q1408.61 453.7 1408.61 455.0V465.05ZM1411.24 465.05V453.2Q1411.24 451.9 1412.54 451.9H1413.54Q1414.84 451.9 1414.84 453.2V465.05ZM1423.70 465.05V447.0Q1423.70 445.7 1425.00 445.7H1426.00Q1427.30 445.7 1427.30 447.0V465.05ZM1429.93 465.05V442.1Q1429.93 440.8 1431.23 440.8H1432.23Q1433.53 440.8 1433.53 442.1V465.05ZM1442.38 465.05V442.9Q1442.38 441.6 1443.68 441.6H1444.68Q1445.98 441.6 1445.98 442.9V465.05ZM1479.75 465.05V437.9Q1479.75 436.6 1481.05 436.6H1482.05Q1483.35 436.6 1483.35 437.9V465.05ZM1485.98 465.05V440.4Q1485.98 439.1 1487.28 439.1H1488.28Q1489.58 439.1 1489.58 440.4V465.05ZM1492.21 465.05V447.0Q1492.21 445.7 1493.51 445.7H1494.51Q1495.81 445.7 1495.81 447.0V465.05ZM1504.66 465.05V448.4Q1504.66 447.1 1505.96 447.1H1506.96Q1508.26 447.1 1508.26 448.4V465.05ZM1517.12 465.05V452.0Q1517.12 450.7 1518.42 450.7H1519.42Q1520.72 450.7 1520.72 452.0V465.05ZM1523.35 465.05V444.9Q1523.35 443.6 1524.65 443.6H1525.65Q1526.95 443.6 1526.95 444.9V465.05ZM1529.57 465.05V435.9Q1529.57 434.6 1530.87 434.6H1531.87Q1533.17 434.6 1533.17 435.9V465.05ZM1542.03 465.05V432.1Q1542.03 430.8 1543.33 430.8H1544.33Q1545.63 430.8 1545.63 432.1V465.05ZM1548.26 465.05V407.1Q1548.26 405.8 1549.56 405.8H1550.56Q1551.86 405.8 1551.86 407.1V465.05ZM1554.49 465.05V402.1Q1554.49 400.8 1555.79 400.8H1556.79Q1558.09 400.8 1558.09 402.1V465.05ZM1560.71 465.05V435.1Q1560.71 433.8 1562.01 433.8H1563.01Q1564.31 433.8 1564.31 435.1V465.05ZM1566.94 465.05V423.8Q1566.94 422.5 1568.24 422.5H1569.24Q1570.54 422.5 1570.54 423.8V465.05ZM1604.31 465.05V453.7Q1604.31 452.4 1605.61 452.4H1606.61Q1607.91 452.4 1607.91 453.7V465.05ZM1622.99 465.05V442.1Q1622.99 440.8 1624.29 440.8H1625.29Q1626.59 440.8 1626.59 442.1V465.05ZM1629.22 465.05V441.2Q1629.22 439.9 1630.52 439.9H1631.52Q1632.82 439.9 1632.82 441.2V465.05ZM1635.45 465.05V436.7Q1635.45 435.4 1636.75 435.4H1637.75Q1639.05 435.4 1639.05 436.7V465.05ZM1654.13 465.05V439.2Q1654.13 437.9 1655.43 437.9H1656.43Q1657.73 437.9 1657.73 439.2V465.05ZM1679.05 465.05V437.9Q1679.05 436.6 1680.35 436.6H1681.35Q1682.65 436.6 1682.65 437.9V465.05ZM1691.50 465.05V437.1Q1691.50 435.8 1692.80 435.8H1693.80Q1695.10 435.8 1695.10 437.1V465.05ZM1703.96 465.05V442.1Q1703.96 440.8 1705.26 440.8H1706.26Q1707.56 440.8 1707.56 442.1V465.05ZM1710.19 465.05V441.2Q1710.19 439.9 1711.49 439.9H1712.49Q1713.79 439.9 1713.79 441.2V465.05ZM1722.64 465.05V442.9Q1722.64 441.6 1723.94 441.6H1724.94Q1726.24 441.6 1726.24 442.9V465.05Z"/></g>
<rect x="18.0" y="497.2" width="36.6" height="3.7" fill="rgba(34,171,148,0.58)"/>
<rect x="62.1" y="497.2" width="24.9" height="3.7" fill="rgba(34,171,148,0.58)"/>
<rect x="99.0" y="497.2" width="43.8" height="3.7" fill="rgba(242,54,69,0.5)"/>
<rect x="144.1" y="497.2" width="23.6" height="3.7" fill="rgba(34,171,148,0.58)"/>
<rect x="169.2" y="497.2" width="10.5" height="3.7" fill="rgba(242,54,69,0.5)"/>
<rect x="181.0" y="497.2" width="17.9" height="3.7" fill="rgba(34,171,148,0.58)"/>
<rect x="200.2" y="497.2" width="66.5" height="3.7" fill="rgba(242,54,69,0.5)"/>
<rect x="267.9" y="497.2" width="54.9" height="3.7" fill="rgba(34,171,148,0.58)"/>
<rect x="329.1" y="497.2" width="18.7" height="3.7" fill="rgba(34,171,148,0.58)"/>
<rect x="349.1" y="497.2" width="1125.7" height="3.7" fill="rgba(242,54,69,0.5)"/>
<rect x="1476.2" y="497.2" width="247.9" height="3.7" fill="rgba(34,171,148,0.58)"/>
<g clip-path="url(#cd)"><path fill="rgba(242,54,69,0.26)" d="M16.17 465.05V465.2Q16.17 466.5 17.47 466.5H18.47Q19.77 466.5 19.77 465.2V465.05ZM22.40 465.05V471.9Q22.40 473.2 23.70 473.2H24.70Q26.00 473.2 26.00 471.9V465.05ZM28.63 465.05V466.1Q28.63 467.4 29.93 467.4H30.93Q32.23 467.4 32.23 466.1V465.05ZM34.85 465.05V486.0Q34.85 487.3 36.15 487.3H37.15Q38.45 487.3 38.45 486.0V465.05ZM41.08 465.05V486.9Q41.08 488.2 42.38 488.2H43.38Q44.68 488.2 44.68 486.9V465.05ZM47.31 465.05V473.2Q47.31 474.5 48.61 474.5H49.61Q50.91 474.5 50.91 473.2V465.05ZM53.54 465.05V476.1Q53.54 477.4 54.84 477.4H55.84Q57.14 477.4 57.14 476.1V465.05ZM65.99 465.05V471.9Q65.99 473.2 67.29 473.2H68.29Q69.59 473.2 69.59 471.9V465.05ZM78.45 465.05V484.4Q78.45 485.7 79.75 485.7H80.75Q82.05 485.7 82.05 484.4V465.05ZM84.68 465.05V492.2Q84.68 493.5 85.98 493.5H86.98Q88.28 493.5 88.28 492.2V465.05ZM97.13 465.05V480.2Q97.13 481.5 98.43 481.5H99.43Q100.73 481.5 100.73 480.2V465.05ZM122.05 465.05V485.2Q122.05 486.5 123.35 486.5H124.35Q125.65 486.5 125.65 485.2V465.05ZM134.50 465.05V473.2Q134.50 474.5 135.80 474.5H136.80Q138.10 474.5 138.10 473.2V465.05ZM146.96 465.05V470.2Q146.96 471.5 148.26 471.5H149.26Q150.56 471.5 150.56 470.2V465.05ZM153.19 465.05V486.0Q153.19 487.3 154.49 487.3H155.49Q156.79 487.3 156.79 486.0V465.05ZM159.41 465.05V481.1Q159.41 482.4 160.71 482.4H161.71Q163.01 482.4 163.01 481.1V465.05ZM184.33 465.05V495.5Q184.33 496.8 185.63 496.8H186.63Q187.93 496.8 187.93 495.5V465.05ZM190.55 465.05V479.4Q190.55 480.7 191.85 480.7H192.85Q194.15 480.7 194.15 479.4V465.05ZM196.78 465.05V481.1Q196.78 482.4 198.08 482.4H199.08Q200.38 482.4 200.38 481.1V465.05ZM215.47 465.05V503.5Q215.47 504.8 216.77 504.8H217.77Q219.07 504.8 219.07 503.5V465.05ZM234.15 465.05V466.9Q234.15 468.2 235.45 468.2H236.45Q237.75 468.2 237.75 466.9V465.05ZM246.61 465.05V465.2Q246.61 466.5 247.91 466.5H248.91Q250.21 466.5 250.21 465.2V465.05ZM252.83 465.05V474.4Q252.83 475.7 254.13 475.7H255.13Q256.43 475.7 256.43 474.4V465.05ZM271.52 465.05V482.7Q271.52 484.0 272.82 484.0H273.82Q275.12 484.0 275.12 482.7V465.05ZM290.20 465.05V479.4Q290.20 480.7 291.50 480.7H292.50Q293.80 480.7 293.80 479.4V465.05ZM296.43 465.05V466.9Q296.43 468.2 297.73 468.2H298.73Q300.03 468.2 300.03 466.9V465.05ZM308.89 465.05V465.2Q308.89 466.5 310.19 466.5H311.19Q312.49 466.5 312.49 465.2V465.05ZM315.11 465.05V487.2Q315.11 488.5 316.41 488.5H317.41Q318.71 488.5 318.71 487.2V465.05ZM321.34 465.05V476.9Q321.34 478.2 322.64 478.2H323.64Q324.94 478.2 324.94 476.9V465.05ZM333.80 465.05V465.2Q333.80 466.5 335.10 466.5H336.10Q337.40 466.5 337.40 465.2V465.05ZM340.03 465.05V473.2Q340.03 474.5 341.33 474.5H342.33Q343.63 474.5 343.63 473.2V465.05ZM346.25 465.05V469.4Q346.25 470.7 347.55 470.7H348.55Q349.85 470.7 349.85 469.4V465.05ZM364.94 465.05V466.6Q364.94 467.9 366.24 467.9H367.24Q368.54 467.9 368.54 466.6V465.05ZM383.62 465.05V473.2Q383.62 474.5 384.92 474.5H385.92Q387.22 474.5 387.22 473.2V465.05ZM396.08 465.05V469.4Q396.08 470.7 397.38 470.7H398.38Q399.68 470.7 399.68 469.4V465.05ZM402.31 465.05V478.6Q402.31 479.9 403.61 479.9H404.61Q405.91 479.9 405.91 478.6V465.05ZM452.13 465.05V466.4Q452.13 467.7 453.43 467.7H454.43Q455.73 467.7 455.73 466.4V465.05ZM464.59 465.05V472.4Q464.59 473.7 465.89 473.7H466.89Q468.19 473.7 468.19 472.4V465.05ZM470.81 465.05V477.4Q470.81 478.7 472.11 478.7H473.11Q474.41 478.7 474.41 477.4V465.05ZM477.04 465.05V495.2Q477.04 496.5 478.34 496.5H479.34Q480.64 496.5 480.64 495.2V465.05ZM489.50 465.05V485.2Q489.50 486.5 490.80 486.5H491.80Q493.10 486.5 493.10 485.2V465.05ZM501.95 465.05V477.4Q501.95 478.7 503.25 478.7H504.25Q505.55 478.7 505.55 477.4V465.05ZM539.32 465.05V466.4Q539.32 467.7 540.62 467.7H541.62Q542.92 467.7 542.92 466.4V465.05ZM545.55 465.05V477.4Q545.55 478.7 546.85 478.7H547.85Q549.15 478.7 549.15 477.4V465.05ZM551.78 465.05V471.4Q551.78 472.7 553.08 472.7H554.08Q555.38 472.7 555.38 471.4V465.05ZM558.01 465.05V477.4Q558.01 478.7 559.31 478.7H560.31Q561.61 478.7 561.61 477.4V465.05ZM564.23 465.05V470.2Q564.23 471.5 565.53 471.5H566.53Q567.83 471.5 567.83 470.2V465.05ZM582.92 465.05V466.4Q582.92 467.7 584.22 467.7H585.22Q586.52 467.7 586.52 466.4V465.05ZM607.83 465.05V466.9Q607.83 468.2 609.13 468.2H610.13Q611.43 468.2 611.43 466.9V465.05ZM626.51 465.05V474.1Q626.51 475.4 627.81 475.4H628.81Q630.11 475.4 630.11 474.1V465.05ZM638.97 465.05V483.1Q638.97 484.4 640.27 484.4H641.27Q642.57 484.4 642.57 483.1V465.05ZM645.20 465.05V476.1Q645.20 477.4 646.50 477.4H647.50Q648.80 477.4 648.80 476.1V465.05ZM657.65 465.05V465.2Q657.65 466.5 658.95 466.5H659.95Q661.25 466.5 661.25 465.2V465.05ZM676.34 465.05V475.7Q676.34 477.0 677.64 477.0H678.64Q679.94 477.0 679.94 475.7V465.05ZM688.79 465.05V466.9Q688.79 468.2 690.09 468.2H691.09Q692.39 468.2 692.39 466.9V465.05ZM707.48 465.05V469.1Q707.48 470.4 708.78 470.4H709.78Q711.08 470.4 711.08 469.1V465.05ZM719.93 465.05V470.2Q719.93 471.5 721.23 471.5H722.23Q723.53 471.5 723.53 470.2V465.05ZM726.16 465.05V473.2Q726.16 474.5 727.46 474.5H728.46Q729.76 474.5 729.76 473.2V465.05ZM732.39 465.05V475.7Q732.39 477.0 733.69 477.0H734.69Q735.99 477.0 735.99 475.7V465.05ZM775.99 465.05V468.2Q775.99 469.5 777.29 469.5H778.29Q779.59 469.5 779.59 468.2V465.05ZM782.21 465.05V471.9Q782.21 473.2 783.51 473.2H784.51Q785.81 473.2 785.81 471.9V465.05ZM788.44 465.05V476.1Q788.44 477.4 789.74 477.4H790.74Q792.04 477.4 792.04 476.1V465.05ZM800.90 465.05V476.1Q800.90 477.4 802.20 477.4H803.20Q804.50 477.4 804.50 476.1V465.05ZM807.13 465.05V486.0Q807.13 487.3 808.43 487.3H809.43Q810.73 487.3 810.73 486.0V465.05ZM832.04 465.05V481.9Q832.04 483.2 833.34 483.2H834.34Q835.64 483.2 835.64 481.9V465.05ZM838.27 465.05V466.9Q838.27 468.2 839.57 468.2H840.57Q841.87 468.2 841.87 466.9V465.05ZM844.49 465.05V475.2Q844.49 476.5 845.79 476.5H846.79Q848.09 476.5 848.09 475.2V465.05ZM863.18 465.05V476.1Q863.18 477.4 864.48 477.4H865.48Q866.78 477.4 866.78 476.1V465.05ZM875.63 465.05V475.2Q875.63 476.5 876.93 476.5H877.93Q879.23 476.5 879.23 475.2V465.05ZM888.09 465.05V483.6Q888.09 484.9 889.39 484.9H890.39Q891.69 484.9 891.69 483.6V465.05ZM900.55 465.05V466.9Q900.55 468.2 901.85 468.2H902.85Q904.15 468.2 904.15 466.9V465.05ZM925.46 465.05V481.9Q925.46 483.2 926.76 483.2H927.76Q929.06 483.2 929.06 481.9V465.05ZM981.51 465.05V466.4Q981.51 467.7 982.81 467.7H983.81Q985.11 467.7 985.11 466.4V465.05ZM1000.19 465.05V471.4Q1000.19 472.7 1001.49 472.7H1002.49Q1003.79 472.7 1003.79 471.4V465.05ZM1012.65 465.05V475.2Q1012.65 476.5 1013.95 476.5H1014.95Q1016.25 476.5 1016.25 475.2V465.05ZM1031.33 465.05V470.2Q1031.33 471.5 1032.63 471.5H1033.63Q1034.93 471.5 1034.93 470.2V465.05ZM1037.56 465.05V470.6Q1037.56 471.9 1038.86 471.9H1039.86Q1041.16 471.9 1041.16 470.6V465.05ZM1050.02 465.05V472.2Q1050.02 473.5 1051.32 473.5H1052.32Q1053.62 473.5 1053.62 472.2V465.05ZM1056.25 465.05V472.2Q1056.25 473.5 1057.55 473.5H1058.55Q1059.85 473.5 1059.85 472.2V465.05ZM1074.93 465.05V476.1Q1074.93 477.4 1076.23 477.4H1077.23Q1078.53 477.4 1078.53 476.1V465.05ZM1087.39 465.05V465.2Q1087.39 466.5 1088.69 466.5H1089.69Q1090.99 466.5 1090.99 465.2V465.05ZM1093.61 465.05V466.4Q1093.61 467.7 1094.91 467.7H1095.91Q1097.21 467.7 1097.21 466.4V465.05ZM1106.07 465.05V486.0Q1106.07 487.3 1107.37 487.3H1108.37Q1109.67 487.3 1109.67 486.0V465.05ZM1112.30 465.05V472.2Q1112.30 473.5 1113.60 473.5H1114.60Q1115.90 473.5 1115.90 472.2V465.05ZM1124.75 465.05V495.2Q1124.75 496.5 1126.05 496.5H1127.05Q1128.35 496.5 1128.35 495.2V465.05ZM1130.98 465.05V483.6Q1130.98 484.9 1132.28 484.9H1133.28Q1134.58 484.9 1134.58 483.6V465.05ZM1162.12 465.05V470.2Q1162.12 471.5 1163.42 471.5H1164.42Q1165.72 471.5 1165.72 470.2V465.05ZM1168.35 465.05V474.4Q1168.35 475.7 1169.65 475.7H1170.65Q1171.95 475.7 1171.95 474.4V465.05ZM1187.03 465.05V466.1Q1187.03 467.4 1188.33 467.4H1189.33Q1190.63 467.4 1190.63 466.1V465.05ZM1199.49 465.05V469.1Q1199.49 470.4 1200.79 470.4H1201.79Q1203.09 470.4 1203.09 469.1V465.05ZM1205.72 465.05V490.2Q1205.72 491.5 1207.02 491.5H1208.02Q1209.32 491.5 1209.32 490.2V465.05ZM1211.95 465.05V500.2Q1211.95 501.5 1213.25 501.5H1214.25Q1215.55 501.5 1215.55 500.2V465.05ZM1230.63 465.05V468.2Q1230.63 469.5 1231.93 469.5H1232.93Q1234.23 469.5 1234.23 468.2V465.05ZM1236.86 465.05V476.9Q1236.86 478.2 1238.16 478.2H1239.16Q1240.46 478.2 1240.46 476.9V465.05ZM1243.09 465.05V469.1Q1243.09 470.4 1244.39 470.4H1245.39Q1246.69 470.4 1246.69 469.1V465.05ZM1255.54 465.05V499.9Q1255.54 501.2 1256.84 501.2H1257.84Q1259.14 501.2 1259.14 499.9V465.05ZM1280.45 465.05V484.4Q1280.45 485.7 1281.75 485.7H1282.75Q1284.05 485.7 1284.05 484.4V465.05ZM1286.68 465.05V470.2Q1286.68 471.5 1287.98 471.5H1288.98Q1290.28 471.5 1290.28 470.2V465.05ZM1311.59 465.05V484.4Q1311.59 485.7 1312.89 485.7H1313.89Q1315.19 485.7 1315.19 484.4V465.05ZM1317.82 465.05V468.2Q1317.82 469.5 1319.12 469.5H1320.12Q1321.42 469.5 1321.42 468.2V465.05ZM1324.05 465.05V466.9Q1324.05 468.2 1325.35 468.2H1326.35Q1327.65 468.2 1327.65 466.9V465.05ZM1330.28 465.05V480.2Q1330.28 481.5 1331.58 481.5H1332.58Q1333.88 481.5 1333.88 480.2V465.05ZM1392.56 465.05V471.1Q1392.56 472.4 1393.86 472.4H1394.86Q1396.16 472.4 1396.16 471.1V465.05ZM1405.01 465.05V467.7Q1405.01 469.0 1406.31 469.0H1407.31Q1408.61 469.0 1408.61 467.7V465.05ZM1411.24 465.05V466.4Q1411.24 467.7 1412.54 467.7H1413.54Q1414.84 467.7 1414.84 466.4V465.05ZM1423.70 465.05V475.2Q1423.70 476.5 1425.00 476.5H1426.00Q1427.30 476.5 1427.30 475.2V465.05ZM1429.93 465.05V479.4Q1429.93 480.7 1431.23 480.7H1432.23Q1433.53 480.7 1433.53 479.4V465.05ZM1442.38 465.05V477.4Q1442.38 478.7 1443.68 478.7H1444.68Q1445.98 478.7 1445.98 477.4V465.05ZM1485.98 465.05V475.2Q1485.98 476.5 1487.28 476.5H1488.28Q1489.58 476.5 1489.58 475.2V465.05ZM1492.21 465.05V471.1Q1492.21 472.4 1493.51 472.4H1494.51Q1495.81 472.4 1495.81 471.1V465.05ZM1504.66 465.05V465.2Q1504.66 466.5 1505.96 466.5H1506.96Q1508.26 466.5 1508.26 465.2V465.05ZM1517.12 465.05V466.1Q1517.12 467.4 1518.42 467.4H1519.42Q1520.72 467.4 1520.72 466.1V465.05ZM1523.35 465.05V476.9Q1523.35 478.2 1524.65 478.2H1525.65Q1526.95 478.2 1526.95 476.9V465.05ZM1529.57 465.05V485.2Q1529.57 486.5 1530.87 486.5H1531.87Q1533.17 486.5 1533.17 485.2V465.05ZM1542.03 465.05V466.1Q1542.03 467.4 1543.33 467.4H1544.33Q1545.63 467.4 1545.63 466.1V465.05ZM1548.26 465.05V469.4Q1548.26 470.7 1549.56 470.7H1550.56Q1551.86 470.7 1551.86 469.4V465.05ZM1554.49 465.05V503.5Q1554.49 504.8 1555.79 504.8H1556.79Q1558.09 504.8 1558.09 503.5V465.05ZM1560.71 465.05V466.4Q1560.71 467.7 1562.01 467.7H1563.01Q1564.31 467.7 1564.31 466.4V465.05ZM1566.94 465.05V487.2Q1566.94 488.5 1568.24 488.5H1569.24Q1570.54 488.5 1570.54 487.2V465.05ZM1604.31 465.05V469.4Q1604.31 470.7 1605.61 470.7H1606.61Q1607.91 470.7 1607.91 469.4V465.05ZM1622.99 465.05V466.4Q1622.99 467.7 1624.29 467.7H1625.29Q1626.59 467.7 1626.59 466.4V465.05ZM1629.22 465.05V471.1Q1629.22 472.4 1630.52 472.4H1631.52Q1632.82 472.4 1632.82 471.1V465.05ZM1635.45 465.05V470.6Q1635.45 471.9 1636.75 471.9H1637.75Q1639.05 471.9 1639.05 470.6V465.05ZM1654.13 465.05V474.4Q1654.13 475.7 1655.43 475.7H1656.43Q1657.73 475.7 1657.73 474.4V465.05ZM1679.05 465.05V484.4Q1679.05 485.7 1680.35 485.7H1681.35Q1682.65 485.7 1682.65 484.4V465.05ZM1691.50 465.05V476.4Q1691.50 477.7 1692.80 477.7H1693.80Q1695.10 477.7 1695.10 476.4V465.05ZM1703.96 465.05V481.4Q1703.96 482.7 1705.26 482.7H1706.26Q1707.56 482.7 1707.56 481.4V465.05ZM1710.19 465.05V474.4Q1710.19 475.7 1711.49 475.7H1712.49Q1713.79 475.7 1713.79 474.4V465.05ZM1722.64 465.05V486.0Q1722.64 487.3 1723.94 487.3H1724.94Q1726.24 487.3 1726.24 486.0V465.05ZM1728.87 465.05V477.4Q1728.87 478.7 1730.17 478.7H1731.17Q1732.47 478.7 1732.47 477.4V465.05Z"/><path fill="rgba(242,54,69,0.66)" d="M59.77 465.05V503.5Q59.77 504.8 61.07 504.8H62.07Q63.37 504.8 63.37 503.5V465.05ZM90.91 465.05V503.5Q90.91 504.8 92.21 504.8H93.21Q94.51 504.8 94.51 503.5V465.05ZM103.36 465.05V496.9Q103.36 498.2 104.66 498.2H105.66Q106.96 498.2 106.96 496.9V465.05ZM115.82 465.05V487.7Q115.82 489.0 117.12 489.0H118.12Q119.42 489.0 119.42 487.7V465.05ZM128.27 465.05V482.7Q128.27 484.0 129.57 484.0H130.57Q131.87 484.0 131.87 482.7V465.05ZM140.73 465.05V490.2Q140.73 491.5 142.03 491.5H143.03Q144.33 491.5 144.33 490.2V465.05ZM171.87 465.05V503.5Q171.87 504.8 173.17 504.8H174.17Q175.47 504.8 175.47 503.5V465.05ZM178.10 465.05V489.4Q178.10 490.7 179.40 490.7H180.40Q181.70 490.7 181.70 489.4V465.05ZM203.01 465.05V503.5Q203.01 504.8 204.31 504.8H205.31Q206.61 504.8 206.61 503.5V465.05ZM209.24 465.05V503.5Q209.24 504.8 210.54 504.8H211.54Q212.84 504.8 212.84 503.5V465.05ZM221.69 465.05V503.5Q221.69 504.8 222.99 504.8H223.99Q225.29 504.8 225.29 503.5V465.05ZM227.92 465.05V500.2Q227.92 501.5 229.22 501.5H230.22Q231.52 501.5 231.52 500.2V465.05ZM240.38 465.05V503.5Q240.38 504.8 241.68 504.8H242.68Q243.98 504.8 243.98 503.5V465.05ZM259.06 465.05V494.4Q259.06 495.7 260.36 495.7H261.36Q262.66 495.7 262.66 494.4V465.05ZM265.29 465.05V486.5Q265.29 487.8 266.59 487.8H267.59Q268.89 487.8 268.89 486.5V465.05ZM277.75 465.05V491.4Q277.75 492.7 279.05 492.7H280.05Q281.35 492.7 281.35 491.4V465.05ZM283.97 465.05V479.4Q283.97 480.7 285.27 480.7H286.27Q287.57 480.7 287.57 479.4V465.05ZM302.66 465.05V490.2Q302.66 491.5 303.96 491.5H304.96Q306.26 491.5 306.26 490.2V465.05ZM327.57 465.05V499.9Q327.57 501.2 328.87 501.2H329.87Q331.17 501.2 331.17 499.9V465.05ZM352.48 465.05V503.5Q352.48 504.8 353.78 504.8H354.78Q356.08 504.8 356.08 503.5V465.05ZM358.71 465.05V503.5Q358.71 504.8 360.01 504.8H361.01Q362.31 504.8 362.31 503.5V465.05ZM371.17 465.05V493.5Q371.17 494.8 372.47 494.8H373.47Q374.77 494.8 374.77 493.5V465.05ZM377.39 465.05V489.7Q377.39 491.0 378.69 491.0H379.69Q380.99 491.0 380.99 489.7V465.05ZM389.85 465.05V492.7Q389.85 494.0 391.15 494.0H392.15Q393.45 494.0 393.45 492.7V465.05ZM408.53 465.05V487.7Q408.53 489.0 409.83 489.0H410.83Q412.13 489.0 412.13 487.7V465.05ZM414.76 465.05V487.7Q414.76 489.0 416.06 489.0H417.06Q418.36 489.0 418.36 487.7V465.05ZM420.99 465.05V490.2Q420.99 491.5 422.29 491.5H423.29Q424.59 491.5 424.59 490.2V465.05ZM427.22 465.05V484.4Q427.22 485.7 428.52 485.7H429.52Q430.82 485.7 430.82 484.4V465.05ZM433.45 465.05V483.6Q433.45 484.9 434.75 484.9H435.75Q437.05 484.9 437.05 483.6V465.05ZM439.67 465.05V481.4Q439.67 482.7 440.97 482.7H441.97Q443.27 482.7 443.27 481.4V465.05ZM445.90 465.05V484.7Q445.90 486.0 447.20 486.0H448.20Q449.50 486.0 449.50 484.7V465.05ZM483.27 465.05V492.7Q483.27 494.0 484.57 494.0H485.57Q486.87 494.0 486.87 492.7V465.05ZM495.73 465.05V499.4Q495.73 500.7 497.03 500.7H498.03Q499.33 500.7 499.33 499.4V465.05ZM508.18 465.05V488.5Q508.18 489.8 509.48 489.8H510.48Q511.78 489.8 511.78 488.5V465.05ZM514.41 465.05V487.7Q514.41 489.0 515.71 489.0H516.71Q518.01 489.0 518.01 487.7V465.05ZM520.64 465.05V483.6Q520.64 484.9 521.94 484.9H522.94Q524.24 484.9 524.24 483.6V465.05ZM526.87 465.05V484.7Q526.87 486.0 528.17 486.0H529.17Q530.47 486.0 530.47 484.7V465.05ZM533.09 465.05V482.7Q533.09 484.0 534.39 484.0H535.39Q536.69 484.0 536.69 482.7V465.05ZM570.46 465.05V503.5Q570.46 504.8 571.76 504.8H572.76Q574.06 504.8 574.06 503.5V465.05ZM576.69 465.05V480.2Q576.69 481.5 577.99 481.5H578.99Q580.29 481.5 580.29 480.2V465.05ZM589.15 465.05V483.6Q589.15 484.9 590.45 484.9H591.45Q592.75 484.9 592.75 483.6V465.05ZM595.37 465.05V496.5Q595.37 497.8 596.67 497.8H597.67Q598.97 497.8 598.97 496.5V465.05ZM601.60 465.05V481.1Q601.60 482.4 602.90 482.4H603.90Q605.20 482.4 605.20 481.1V465.05ZM614.06 465.05V503.5Q614.06 504.8 615.36 504.8H616.36Q617.66 504.8 617.66 503.5V465.05ZM620.29 465.05V490.2Q620.29 491.5 621.59 491.5H622.59Q623.89 491.5 623.89 490.2V465.05ZM632.74 465.05V495.5Q632.74 496.8 634.04 496.8H635.04Q636.34 496.8 636.34 495.5V465.05ZM651.43 465.05V503.5Q651.43 504.8 652.73 504.8H653.73Q655.03 504.8 655.03 503.5V465.05ZM663.88 465.05V503.5Q663.88 504.8 665.18 504.8H666.18Q667.48 504.8 667.48 503.5V465.05ZM670.11 465.05V488.5Q670.11 489.8 671.41 489.8H672.41Q673.71 489.8 673.71 488.5V465.05ZM682.57 465.05V495.5Q682.57 496.8 683.87 496.8H684.87Q686.17 496.8 686.17 495.5V465.05ZM695.02 465.05V484.4Q695.02 485.7 696.32 485.7H697.32Q698.62 485.7 698.62 484.4V465.05ZM701.25 465.05V485.2Q701.25 486.5 702.55 486.5H703.55Q704.85 486.5 704.85 485.2V465.05ZM713.71 465.05V482.4Q713.71 483.7 715.01 483.7H716.01Q717.31 483.7 717.31 482.4V465.05ZM738.62 465.05V489.4Q738.62 490.7 739.92 490.7H740.92Q742.22 490.7 742.22 489.4V465.05ZM744.85 465.05V485.2Q744.85 486.5 746.15 486.5H747.15Q748.45 486.5 748.45 485.2V465.05ZM751.07 465.05V486.0Q751.07 487.3 752.37 487.3H753.37Q754.67 487.3 754.67 486.0V465.05ZM757.30 465.05V489.4Q757.30 490.7 758.60 490.7H759.60Q760.90 490.7 760.90 489.4V465.05ZM763.53 465.05V491.0Q763.53 492.3 764.83 492.3H765.83Q767.13 492.3 767.13 491.0V465.05ZM769.76 465.05V484.4Q769.76 485.7 771.06 485.7H772.06Q773.36 485.7 773.36 484.4V465.05ZM794.67 465.05V499.4Q794.67 500.7 795.97 500.7H796.97Q798.27 500.7 798.27 499.4V465.05ZM813.35 465.05V503.5Q813.35 504.8 814.65 504.8H815.65Q816.95 504.8 816.95 503.5V465.05ZM819.58 465.05V495.2Q819.58 496.5 820.88 496.5H821.88Q823.18 496.5 823.18 495.2V465.05ZM825.81 465.05V486.5Q825.81 487.8 827.11 487.8H828.11Q829.41 487.8 829.41 486.5V465.05ZM850.72 465.05V493.5Q850.72 494.8 852.02 494.8H853.02Q854.32 494.8 854.32 493.5V465.05ZM856.95 465.05V483.6Q856.95 484.9 858.25 484.9H859.25Q860.55 484.9 860.55 483.6V465.05ZM869.41 465.05V480.2Q869.41 481.5 870.71 481.5H871.71Q873.01 481.5 873.01 480.2V465.05ZM881.86 465.05V481.1Q881.86 482.4 883.16 482.4H884.16Q885.46 482.4 885.46 481.1V465.05ZM894.32 465.05V488.5Q894.32 489.8 895.62 489.8H896.62Q897.92 489.8 897.92 488.5V465.05ZM913.00 465.05V493.5Q913.00 494.8 914.30 494.8H915.30Q916.60 494.8 916.60 493.5V465.05ZM919.23 465.05V497.7Q919.23 499.0 920.53 499.0H921.53Q922.83 499.0 922.83 497.7V465.05ZM937.91 465.05V494.4Q937.91 495.7 939.21 495.7H940.21Q941.51 495.7 941.51 494.4V465.05ZM944.14 465.05V499.4Q944.14 500.7 945.44 500.7H946.44Q947.74 500.7 947.74 499.4V465.05ZM950.37 465.05V492.7Q950.37 494.0 951.67 494.0H952.67Q953.97 494.0 953.97 492.7V465.05ZM956.60 465.05V489.7Q956.60 491.0 957.90 491.0H958.90Q960.20 491.0 960.20 489.7V465.05ZM962.83 465.05V489.7Q962.83 491.0 964.13 491.0H965.13Q966.43 491.0 966.43 489.7V465.05ZM969.05 465.05V482.7Q969.05 484.0 970.35 484.0H971.35Q972.65 484.0 972.65 482.7V465.05ZM975.28 465.05V476.4Q975.28 477.7 976.58 477.7H977.58Q978.88 477.7 978.88 476.4V465.05ZM987.74 465.05V484.7Q987.74 486.0 989.04 486.0H990.04Q991.34 486.0 991.34 484.7V465.05ZM1006.42 465.05V493.5Q1006.42 494.8 1007.72 494.8H1008.72Q1010.02 494.8 1010.02 493.5V465.05ZM1018.88 465.05V484.7Q1018.88 486.0 1020.18 486.0H1021.18Q1022.48 486.0 1022.48 484.7V465.05ZM1025.11 465.05V481.9Q1025.11 483.2 1026.41 483.2H1027.41Q1028.71 483.2 1028.71 481.9V465.05ZM1043.79 465.05V495.5Q1043.79 496.8 1045.09 496.8H1046.09Q1047.39 496.8 1047.39 495.5V465.05ZM1062.47 465.05V500.2Q1062.47 501.5 1063.77 501.5H1064.77Q1066.07 501.5 1066.07 500.2V465.05ZM1068.70 465.05V480.6Q1068.70 481.9 1070.00 481.9H1071.00Q1072.30 481.9 1072.30 480.6V465.05ZM1081.16 465.05V488.9Q1081.16 490.2 1082.46 490.2H1083.46Q1084.76 490.2 1084.76 488.9V465.05ZM1099.84 465.05V488.9Q1099.84 490.2 1101.14 490.2H1102.14Q1103.44 490.2 1103.44 488.9V465.05ZM1118.53 465.05V492.7Q1118.53 494.0 1119.83 494.0H1120.83Q1122.13 494.0 1122.13 492.7V465.05ZM1137.21 465.05V503.5Q1137.21 504.8 1138.51 504.8H1139.51Q1140.81 504.8 1140.81 503.5V465.05ZM1143.44 465.05V486.9Q1143.44 488.2 1144.74 488.2H1145.74Q1147.04 488.2 1147.04 486.9V465.05ZM1149.67 465.05V503.5Q1149.67 504.8 1150.97 504.8H1151.97Q1153.27 504.8 1153.27 503.5V465.05ZM1155.89 465.05V499.9Q1155.89 501.2 1157.19 501.2H1158.19Q1159.49 501.2 1159.49 499.9V465.05ZM1174.58 465.05V483.6Q1174.58 484.9 1175.88 484.9H1176.88Q1178.18 484.9 1178.18 483.6V465.05ZM1180.81 465.05V493.5Q1180.81 494.8 1182.11 494.8H1183.11Q1184.41 494.8 1184.41 493.5V465.05ZM1193.26 465.05V498.5Q1193.26 499.8 1194.56 499.8H1195.56Q1196.86 499.8 1196.86 498.5V465.05ZM1218.17 465.05V495.5Q1218.17 496.8 1219.47 496.8H1220.47Q1221.77 496.8 1221.77 495.5V465.05ZM1224.40 465.05V503.5Q1224.40 504.8 1225.70 504.8H1226.70Q1228.00 504.8 1228.00 503.5V465.05ZM1249.31 465.05V488.5Q1249.31 489.8 1250.61 489.8H1251.61Q1252.91 489.8 1252.91 488.5V465.05ZM1261.77 465.05V503.5Q1261.77 504.8 1263.07 504.8H1264.07Q1265.37 504.8 1265.37 503.5V465.05ZM1268.00 465.05V494.4Q1268.00 495.7 1269.30 495.7H1270.30Q1271.60 495.7 1271.60 494.4V465.05ZM1274.23 465.05V494.4Q1274.23 495.7 1275.53 495.7H1276.53Q1277.83 495.7 1277.83 494.4V465.05ZM1292.91 465.05V503.5Q1292.91 504.8 1294.21 504.8H1295.21Q1296.51 504.8 1296.51 503.5V465.05ZM1299.14 465.05V492.7Q1299.14 494.0 1300.44 494.0H1301.44Q1302.74 494.0 1302.74 492.7V465.05ZM1305.37 465.05V492.7Q1305.37 494.0 1306.67 494.0H1307.67Q1308.97 494.0 1308.97 492.7V465.05ZM1336.51 465.05V495.5Q1336.51 496.8 1337.81 496.8H1338.81Q1340.11 496.8 1340.11 495.5V465.05ZM1342.73 465.05V492.7Q1342.73 494.0 1344.03 494.0H1345.03Q1346.33 494.0 1346.33 492.7V465.05ZM1348.96 465.05V492.7Q1348.96 494.0 1350.26 494.0H1351.26Q1352.56 494.0 1352.56 492.7V465.05ZM1355.19 465.05V496.5Q1355.19 497.8 1356.49 497.8H1357.49Q1358.79 497.8 1358.79 496.5V465.05ZM1361.42 465.05V503.5Q1361.42 504.8 1362.72 504.8H1363.72Q1365.02 504.8 1365.02 503.5V465.05ZM1367.65 465.05V492.7Q1367.65 494.0 1368.95 494.0H1369.95Q1371.25 494.0 1371.25 492.7V465.05ZM1373.87 465.05V482.7Q1373.87 484.0 1375.17 484.0H1376.17Q1377.47 484.0 1377.47 482.7V465.05ZM1380.10 465.05V481.6Q1380.10 482.9 1381.40 482.9H1382.40Q1383.70 482.9 1383.70 481.6V465.05ZM1386.33 465.05V483.6Q1386.33 484.9 1387.63 484.9H1388.63Q1389.93 484.9 1389.93 483.6V465.05ZM1398.79 465.05V487.7Q1398.79 489.0 1400.09 489.0H1401.09Q1402.39 489.0 1402.39 487.7V465.05ZM1417.47 465.05V479.7Q1417.47 481.0 1418.77 481.0H1419.77Q1421.07 481.0 1421.07 479.7V465.05ZM1436.15 465.05V484.7Q1436.15 486.0 1437.45 486.0H1438.45Q1439.75 486.0 1439.75 484.7V465.05ZM1448.61 465.05V485.5Q1448.61 486.8 1449.91 486.8H1450.91Q1452.21 486.8 1452.21 485.5V465.05ZM1454.84 465.05V479.7Q1454.84 481.0 1456.14 481.0H1457.14Q1458.44 481.0 1458.44 479.7V465.05ZM1461.07 465.05V485.5Q1461.07 486.8 1462.37 486.8H1463.37Q1464.67 486.8 1464.67 485.5V465.05ZM1467.29 465.05V490.5Q1467.29 491.8 1468.59 491.8H1469.59Q1470.89 491.8 1470.89 490.5V465.05ZM1473.52 465.05V484.7Q1473.52 486.0 1474.82 486.0H1475.82Q1477.12 486.0 1477.12 484.7V465.05ZM1498.43 465.05V484.4Q1498.43 485.7 1499.73 485.7H1500.73Q1502.03 485.7 1502.03 484.4V465.05ZM1510.89 465.05V494.4Q1510.89 495.7 1512.19 495.7H1513.19Q1514.49 495.7 1514.49 494.4V465.05ZM1535.80 465.05V493.5Q1535.80 494.8 1537.10 494.8H1538.10Q1539.40 494.8 1539.40 493.5V465.05ZM1573.17 465.05V490.5Q1573.17 491.8 1574.47 491.8H1575.47Q1576.77 491.8 1576.77 490.5V465.05ZM1579.40 465.05V490.5Q1579.40 491.8 1580.70 491.8H1581.70Q1583.00 491.8 1583.00 490.5V465.05ZM1585.63 465.05V489.7Q1585.63 491.0 1586.93 491.0H1587.93Q1589.23 491.0 1589.23 489.7V465.05ZM1591.85 465.05V495.5Q1591.85 496.8 1593.15 496.8H1594.15Q1595.45 496.8 1595.45 495.5V465.05ZM1598.08 465.05V479.7Q1598.08 481.0 1599.38 481.0H1600.38Q1601.68 481.0 1601.68 479.7V465.05ZM1610.54 465.05V494.4Q1610.54 495.7 1611.84 495.7H1612.84Q1614.14 495.7 1614.14 494.4V465.05ZM1616.77 465.05V489.7Q1616.77 491.0 1618.07 491.0H1619.07Q1620.37 491.0 1620.37 489.7V465.05ZM1641.68 465.05V495.5Q1641.68 496.8 1642.98 496.8H1643.98Q1645.28 496.8 1645.28 495.5V465.05ZM1647.91 465.05V499.9Q1647.91 501.2 1649.21 501.2H1650.21Q1651.51 501.2 1651.51 499.9V465.05ZM1660.36 465.05V497.7Q1660.36 499.0 1661.66 499.0H1662.66Q1663.96 499.0 1663.96 497.7V465.05ZM1666.59 465.05V503.5Q1666.59 504.8 1667.89 504.8H1668.89Q1670.19 504.8 1670.19 503.5V465.05ZM1672.82 465.05V503.5Q1672.82 504.8 1674.12 504.8H1675.12Q1676.42 504.8 1676.42 503.5V465.05ZM1685.27 465.05V491.9Q1685.27 493.2 1686.57 493.2H1687.57Q1688.87 493.2 1688.87 491.9V465.05ZM1697.73 465.05V487.7Q1697.73 489.0 1699.03 489.0H1700.03Q1701.33 489.0 1701.33 487.7V465.05ZM1716.41 465.05V488.9Q1716.41 490.2 1717.71 490.2H1718.71Q1720.01 490.2 1720.01 488.9V465.05ZM1728.87 465.05V472.7Q1728.87 474.0 1730.17 474.0H1731.17Q1732.47 474.0 1732.47 472.7V465.05Z"/></g>
<path d="M16 465.3H1734" stroke="#5a5a5a" stroke-width="1.4"/>
<path d="M17.7 453.9 L23.9 443.9 L30.1 434.6 L36.4 426.4 L42.6 408.8 L48.8 381.3 L55.0 363.1 L61.3 385.6 L67.5 382.1 L73.7 374.6 L80.0 358.8 L86.2 338.1 L92.4 363.1 L98.6 334.3 L104.9 340.6 L111.1 336.8 L117.3 341.3 L123.5 336.6 L129.8 340.1 L136.0 335.8 L142.2 345.6 L148.5 342.6 L154.7 328.1 L160.9 311.3 L167.1 296.8 L173.4 320.8 L179.6 330.6 L185.8 310.1 L192.1 292.5 L198.3 268.0 L204.5 286.3 L210.7 304.3 L217.0 270.0 L223.2 306.3 L229.4 320.8 L235.6 290.5 L241.9 325.6 L248.1 323.3 L254.3 311.3 L260.6 327.6 L266.8 337.1 L273.0 320.6 L279.2 330.8 L285.5 333.8 L291.7 326.3 L297.9 311.8 L304.2 322.6 L310.4 312.6 L316.6 295.5 L322.8 262.5 L329.1 277.5 L335.3 271.3 L341.5 255.0 L347.8 220.5 L354.0 257.5 L360.2 293.8 L366.4 288.8 L372.7 300.0 L378.9 305.0 L385.1 302.0 L391.4 318.8 L397.6 303.0 L403.8 285.0 L410.0 295.0 L416.3 309.3 L422.5 324.3 L428.7 332.6 L434.9 343.1 L441.2 349.6 L447.4 360.1 L453.6 350.1 L459.9 343.8 L466.1 337.0 L472.3 320.8 L478.5 295.0 L484.8 306.3 L491.0 301.3 L497.2 321.3 L503.5 310.5 L509.7 315.0 L515.9 319.3 L522.1 323.3 L528.4 335.0 L534.6 342.0 L540.8 334.5 L547.0 317.5 L553.3 301.3 L559.5 285.0 L565.7 265.8 L572.0 290.0 L578.2 296.8 L584.4 283.3 L590.6 295.8 L596.9 314.5 L603.1 318.0 L609.3 306.8 L615.6 330.0 L621.8 344.5 L628.0 335.0 L634.2 351.3 L640.5 335.0 L646.7 315.8 L652.9 338.0 L659.2 318.8 L665.4 342.0 L671.6 355.6 L677.8 349.3 L684.1 366.3 L690.3 359.3 L696.5 366.8 L702.7 373.8 L709.0 368.6 L715.2 377.8 L721.4 375.8 L727.7 366.3 L733.9 353.6 L740.1 367.6 L746.3 379.6 L752.6 391.3 L758.8 403.1 L765.0 414.6 L771.3 418.1 L777.5 405.1 L783.7 392.6 L789.9 377.8 L796.2 395.6 L802.4 383.3 L808.6 370.8 L814.9 384.6 L821.1 395.1 L827.3 405.6 L833.5 393.8 L839.8 385.6 L846.0 370.8 L852.2 380.6 L858.4 384.1 L864.7 376.6 L870.9 379.3 L877.1 373.3 L883.4 379.3 L889.6 366.3 L895.8 379.3 L902.0 363.8 L908.3 351.8 L914.5 367.1 L920.7 372.6 L927.0 360.1 L933.2 340.8 L939.4 357.6 L945.6 370.1 L951.9 379.3 L958.1 387.1 L964.3 399.6 L970.6 402.6 L976.8 405.1 L983.0 397.6 L989.2 408.1 L995.5 401.8 L1001.7 390.8 L1007.9 405.1 L1014.1 391.3 L1020.4 398.1 L1026.6 400.8 L1032.8 390.6 L1039.1 372.8 L1045.3 388.3 L1051.5 379.6 L1057.7 360.6 L1064.0 379.3 L1070.2 382.1 L1076.4 375.1 L1082.7 387.6 L1088.9 380.6 L1095.1 366.8 L1101.3 379.3 L1107.6 360.1 L1113.8 340.5 L1120.0 345.8 L1126.3 338.3 L1132.5 322.3 L1138.7 336.3 L1144.9 345.0 L1151.2 363.8 L1157.4 381.6 L1163.6 378.1 L1169.9 374.6 L1176.1 385.1 L1182.3 399.3 L1188.5 383.3 L1194.8 400.1 L1201.0 387.1 L1207.2 366.3 L1213.4 345.3 L1219.7 356.3 L1225.9 375.1 L1232.1 366.3 L1238.4 352.1 L1244.6 348.0 L1250.8 352.1 L1257.0 330.0 L1263.3 351.3 L1269.5 362.1 L1275.7 372.6 L1282.0 352.6 L1288.2 325.8 L1294.4 356.3 L1300.6 370.8 L1306.9 385.1 L1313.1 377.1 L1319.3 360.6 L1325.5 342.5 L1331.8 327.0 L1338.0 343.8 L1344.2 354.3 L1350.5 363.8 L1356.7 380.1 L1362.9 401.3 L1369.1 410.1 L1375.4 416.3 L1381.6 421.8 L1387.8 430.1 L1394.1 423.1 L1400.3 433.8 L1406.5 430.1 L1412.7 423.8 L1419.0 430.6 L1425.2 421.3 L1431.4 412.1 L1437.7 421.3 L1443.9 410.8 L1450.1 417.6 L1456.3 420.6 L1462.6 430.6 L1468.8 441.8 L1475.0 447.6 L1481.2 435.1 L1487.5 423.8 L1493.7 418.3 L1499.9 424.3 L1506.2 419.3 L1512.4 433.1 L1518.6 428.8 L1524.8 419.3 L1531.1 405.1 L1537.3 418.8 L1543.5 403.1 L1549.8 373.8 L1556.0 345.8 L1562.2 335.5 L1568.4 312.5 L1574.7 311.3 L1580.9 325.0 L1587.1 337.5 L1593.4 353.1 L1599.6 356.3 L1605.8 354.6 L1612.0 369.6 L1618.3 383.1 L1624.5 375.1 L1630.7 366.3 L1637.0 351.3 L1643.2 368.1 L1649.4 385.8 L1655.6 381.3 L1661.9 398.1 L1668.1 416.3 L1674.3 433.1 L1680.5 428.8 L1686.8 441.3 L1693.0 429.1 L1699.2 435.8 L1705.5 425.1 L1711.7 414.3 L1717.9 425.1 L1724.1 418.3 L1730.4 421.3" fill="none" stroke="#089981" stroke-width="2.3" stroke-linejoin="round"/>
<text x="1744" y="362.1" font-size="12" fill="#0f0f0f">30,000.00</text>
<text x="1744" y="397.6" font-size="12" fill="#0f0f0f">20,000.00</text>
<text x="1744" y="433.1" font-size="12" fill="#0f0f0f">10,000.00</text>
<text x="1744" y="468.6" font-size="12" fill="#0f0f0f">0</text>
<rect x="1741.4" y="412.6" width="66.6" height="17" rx="2.5" fill="#089981"/>
<text x="1750.6" y="425.3" font-size="12" fill="#fff">12,287.78</text>
<text x="67.5" y="520.6" font-size="12" text-anchor="middle" fill="#0f0f0f">Feb</text>
<text x="217.0" y="520.6" font-size="12" text-anchor="middle" fill="#0f0f0f">Mar</text>
<text x="316.6" y="520.6" font-size="12" text-anchor="middle" fill="#0f0f0f">Apr</text>
<text x="428.7" y="520.6" font-size="12" text-anchor="middle" fill="#0f0f0f">May</text>
<text x="559.5" y="520.6" font-size="12" text-anchor="middle" fill="#0f0f0f">Jun</text>
<text x="684.1" y="520.6" font-size="12" text-anchor="middle" fill="#0f0f0f">Jul</text>
<text x="839.8" y="520.6" font-size="12" text-anchor="middle" fill="#0f0f0f">Aug</text>
<text x="958.1" y="520.6" font-size="12" text-anchor="middle" fill="#0f0f0f">Sep</text>
<text x="1076.4" y="520.6" font-size="12" text-anchor="middle" fill="#0f0f0f">Oct</text>
<text x="1201.0" y="520.6" font-size="12" text-anchor="middle" fill="#0f0f0f">Nov</text>
<text x="1319.3" y="520.6" font-size="12" text-anchor="middle" fill="#0f0f0f">Dec</text>
<text x="1406.5" y="520.6" font-size="12" text-anchor="middle" fill="#0f0f0f" font-weight="700">2026</text>
<text x="1556.0" y="520.6" font-size="12" text-anchor="middle" fill="#0f0f0f">Feb</text>
<text x="1668.1" y="520.6" font-size="12" text-anchor="middle" fill="#0f0f0f">Mar</text>
</svg>
<div class="t " style="top:213.50px;font-size:13px;color:#0f0f0f;left:15.10px;">Equity</div>
<div class="t " style="top:238.50px;font-size:13px;color:#b3b3b3;left:15.10px;">Buy &amp; hold</div>
<svg style="left:90px;top:241px" width="20" height="16" viewBox="0 0 20 16"><path d="M2.3 8Q6 2.3 10 2.3Q14 2.3 17.7 8Q14 13.7 10 13.7Q6 13.7 2.3 8Z" fill="none" stroke="#1a1a1a" stroke-width="1.1"/><circle cx="10" cy="8" r="2.6" fill="none" stroke="#1a1a1a" stroke-width="1.1"/><path d="M4.2 13.6L15.7 2.2" stroke="#fff" stroke-width="3"/><path d="M4.2 13.6L15.7 2.2" stroke="#1a1a1a" stroke-width="1.1" stroke-linecap="round"/></svg>
<div class="t " style="top:263.50px;font-size:13px;color:#0f0f0f;left:15.10px;">Trades excursions</div>
<div class="t " style="top:288.50px;font-size:13px;color:#0f0f0f;left:15.10px;">Run-up / Drawdowns</div>
<div class="abs" style="left:16px;top:316px;width:29px;height:21px;box-sizing:border-box;border:1px solid #ececec;border-radius:4px;background:rgba(255,255,255,0.8)"></div>
<svg style="left:25.5px;top:322.4px" width="10" height="8" viewBox="0 0 10 8"><path d="M1 5.8 L5 2 L9 5.8" fill="none" stroke="#0f0f0f" stroke-width="1.5"/></svg>
<div class="abs" style="left:0;top:0;width:1815px;height:340px;will-change:transform">
<div class="menu"></div>
<div class="abs" style="left:1573px;top:47px;width:228px;height:32px;border-radius:6px;background:#2e2e2e"></div>
<div class="t " style="top:53.00px;font-size:14px;color:#fff;left:1581.40px;">Range from chart</div>
<div class="sep" style="left:1573px;top:85px;width:228px"></div>
<div class="t " style="top:94.00px;font-size:11px;color:#707070;left:1581.40px;letter-spacing:0.38px;">OTHER RANGES</div>
<div class="t " style="top:121.80px;font-size:14px;color:#0f0f0f;left:1581.40px;">Last 7 days</div>
<div class="t " style="top:153.80px;font-size:14px;color:#0f0f0f;left:1581.40px;">Last 30 days</div>
<div class="t " style="top:185.80px;font-size:14px;color:#0f0f0f;left:1581.40px;">Last 90 days</div>
<div class="t " style="top:217.80px;font-size:14px;color:#0f0f0f;left:1581.40px;">Last 365 days</div>
<div class="t " style="top:249.80px;font-size:14px;color:#0f0f0f;left:1581.40px;">Entire history</div>
<div class="sep" style="left:1573px;top:282px;width:228px"></div>
<svg style="left:1581px;top:294px" width="20" height="20" viewBox="0 0 20 20"><rect x="1.5" y="3.5" width="17" height="15" rx="2.1" fill="none" stroke="#0f0f0f" stroke-width="1"/><path d="M1.5 7.5H18.5M5.5 1.2V4.6M14.5 1.2V4.6" fill="none" stroke="#0f0f0f" stroke-width="1" stroke-linecap="round"/></svg>
<div class="t " style="top:294.80px;font-size:14px;color:#0f0f0f;left:1609.00px;">Custom date range…</div>
</div>
<div class="card"></div>
<svg style="left:36px;top:578.5px" width="12" height="9" viewBox="0 0 12 9"><path d="M1 1.6 L6 6.6 L11 1.6" fill="none" stroke="#333" stroke-width="1.5"/></svg>
<div class="t " style="top:572.00px;font-size:18px;color:#0f0f0f;font-weight:700;left:59.50px;">Performance</div>
<div class="t " style="top:618.80px;font-size:14px;color:#0f0f0f;font-weight:700;left:33.00px;">Profit structure</div>
<div class="t " style="top:618.80px;font-size:14px;color:#0f0f0f;font-weight:700;left:923.50px;">Benchmarking</div>
<svg class="gl" style="left:0;top:640px" width="910" height="200" viewBox="0 640 910 200">
<path d="M33 657.5H829" stroke="#efefef" stroke-width="1"/>
<path d="M33 699.5H829" stroke="#efefef" stroke-width="1"/>
<path d="M33 741.5H829" stroke="#efefef" stroke-width="1"/>
<path d="M33 782.5H829" stroke="#efefef" stroke-width="1"/>
<rect x="103" y="681" width="60" height="143" fill="#089981"/>
<rect x="302" y="681" width="60" height="128" fill="#f23645"/>
<rect x="302" y="809" width="60" height="2" fill="#f9a5ab"/>
<rect x="501" y="810" width="60" height="11" fill="#ff9800"/>
<rect x="700" y="820" width="60" height="4" fill="#3179f5"/>
<path d="M163 681.5H302M362 810.5H501M561 820.5H700" stroke="#666" stroke-width="1" stroke-dasharray="3 2" fill="none"/>
<path d="M33 824.5H829" stroke="#666" stroke-width="1"/>
<text x="890.8" y="662" font-size="11" text-anchor="end" word-spacing="1.5" fill="#0f0f0f">600.00 K</text>
<text x="890.8" y="702.9" font-size="11" text-anchor="end" word-spacing="1.5" fill="#0f0f0f">450.00 K</text>
<text x="890.8" y="743" font-size="11" text-anchor="end" word-spacing="1.5" fill="#0f0f0f">300.00 K</text>
<text x="890.8" y="783.7" font-size="11" text-anchor="end" word-spacing="1.5" fill="#0f0f0f">150.00 K</text>
<text x="890.8" y="823.6" font-size="11" text-anchor="end" word-spacing="1.5" fill="#0f0f0f">0.00</text>
</svg>
<div class="dot" style="left:239.75px;top:844.7px;background:#089981"></div>
<div class="t " style="top:838.50px;font-size:13px;color:#707070;left:255.75px;">Total profit</div>
<div class="dot" style="left:331.75px;top:844.7px;background:#f23645"></div>
<div class="t " style="top:838.50px;font-size:13px;color:#707070;left:348.00px;">Total loss</div>
<div class="dot" style="left:417.75px;top:844.7px;background:#f7a1a7"></div>
<div class="t " style="top:838.50px;font-size:13px;color:#707070;left:433.75px;">Open P&amp;L</div>
<div class="dot" style="left:510px;top:844.7px;background:#ff9800"></div>
<div class="t " style="top:838.50px;font-size:13px;color:#707070;left:526.00px;">Commission</div>
<div class="dot" style="left:612.75px;top:844.7px;background:#3179f5"></div>
<div class="t " style="top:838.50px;font-size:13px;color:#707070;left:629.50px;">Total P&amp;L</div>
<div class="dot" style="left:1227.75px;top:844.7px;background:#ff9800"></div>
<div class="t " style="top:838.50px;font-size:13px;color:#707070;left:1244.75px;">P&amp;L for buy &amp; hold</div>
<div class="dot" style="left:1368.25px;top:844.7px;background:#3179f5"></div>
<div class="t " style="top:838.50px;font-size:13px;color:#707070;left:1384.25px;">P&amp;L for strategy</div>
<svg class="gl" style="left:910px;top:640px" width="905" height="200" viewBox="910 640 905 200">
<path d="M924 667.5H1710" stroke="#efefef" stroke-width="1"/>
<path d="M924 706.5H1710" stroke="#efefef" stroke-width="1"/>
<path d="M924 784.5H1710" stroke="#efefef" stroke-width="1"/>
<path d="M924 823.5H1710" stroke="#efefef" stroke-width="1"/>
<path d="M1248.8 713.8L1316.8 745L1248.8 788.3Z" fill="#fff0dc"/>
<path d="M1383 692L1316.8 745H1383Z" fill="#dde8fd"/>
<path d="M1383 735L1316.8 745H1383Z" fill="#c3d6fb"/>
<path d="M993 713.8H1248.8V788.3H993a3 3 0 0 1-3-3V716.8a3 3 0 0 1 3-3Z" fill="#ffcc80"/>
<path d="M990 745H1248.8V785.8H993a3 3 0 0 1-3-3Z" fill="#ff9800"/>
<path d="M1383 692H1638.5a3 3 0 0 1 3 3V745H1383Z" fill="#98b9f9"/>
<path d="M1383 735H1641.5V745H1383Z" fill="#3179f5"/>
<path d="M924 745.5H1710" stroke="#666" stroke-width="1"/>
<path d="M1248.8 713.8L1316.8 745L1248.8 788.3M1248.8 744.5H1316.8" stroke="#ff9800" stroke-width="1" stroke-dasharray="2.5 1.5" fill="none"/>
<path d="M1383 692L1316.8 745L1383 735" stroke="#3179f5" stroke-width="1" stroke-dasharray="2.5 2.5" fill="none"/>
<circle cx="1316.9" cy="745" r="2.9" fill="#757575"/>
<path d="M1131.25 705H1248.8V722.8H1131.25a2 2 0 0 1-2-2V707a2 2 0 0 1 2-2Z" fill="#fb8c00"/>
<path d="M1184.5 705V722.8" stroke="rgba(255,255,255,0.75)" stroke-width="1"/>
<text x="1135.45" y="717.6" font-size="13" fill="#fff">Max</text>
<text x="1243.0" y="717.6" font-size="13" fill="#fff" text-anchor="end">40.04%</text>
<path d="M1131.25 776.8H1248.8V794.6H1131.25a2 2 0 0 1-2-2V778.8a2 2 0 0 1 2-2Z" fill="#ef6c00"/>
<path d="M1184.5 776.8V794.6" stroke="rgba(255,255,255,0.75)" stroke-width="1"/>
<text x="1135.45" y="788.8" font-size="13" fill="#fff">Current</text>
<text x="1243.0" y="788.8" font-size="13" fill="#fff" text-anchor="end">−51.39%</text>
<path d="M1131.25 795H1248.8V812.6H1131.25a2 2 0 0 1-2-2V797a2 2 0 0 1 2-2Z" fill="#fb8c00"/>
<path d="M1184.5 795V812.6" stroke="rgba(255,255,255,0.75)" stroke-width="1"/>
<text x="1135.45" y="807.6" font-size="13" fill="#fff">Min</text>
<text x="1243.0" y="807.6" font-size="13" fill="#fff" text-anchor="end">−55.94%</text>
<path d="M1383 683H1492.8a2 2 0 0 1 2 2V698.8a2 2 0 0 1-2 2H1383Z" fill="#3179f5"/>
<path d="M1438.2 683V700.8" stroke="rgba(255,255,255,0.75)" stroke-width="1"/>
<text x="1389.2" y="695.2" font-size="13" fill="#fff">Max</text>
<text x="1489.0" y="695.2" font-size="13" fill="#fff" text-anchor="end">68.61%</text>
<path d="M1383 725.8H1492.8a2 2 0 0 1 2 2V741.8a2 2 0 0 1-2 2H1383Z" fill="#1848e0"/>
<path d="M1438.2 725.8V743.8" stroke="rgba(255,255,255,0.75)" stroke-width="1"/>
<text x="1389.2" y="738.8" font-size="13" fill="#fff">Current</text>
<text x="1489.0" y="738.8" font-size="13" fill="#fff" text-anchor="end">13.07%</text>
<path d="M1383 744.2H1492.8a2 2 0 0 1 2 2V759.6a2 2 0 0 1-2 2H1383Z" fill="#3179f5"/>
<path d="M1438.2 744.2V761.6" stroke="rgba(255,255,255,0.75)" stroke-width="1"/>
<text x="1389.2" y="757" font-size="13" fill="#fff">Min</text>
<text x="1489.0" y="757" font-size="13" fill="#fff" text-anchor="end">0.00%</text>
<text x="1719.8" y="670.8" font-size="11" fill="#0f0f0f">100.00%</text>
<text x="1719.8" y="709.8" font-size="11" fill="#0f0f0f">50.00%</text>
<text x="1719.8" y="748.8" font-size="11" fill="#0f0f0f">0.00%</text>
<text x="1719.8" y="787.8" font-size="11" fill="#0f0f0f">−50.00%</text>
<text x="1719.8" y="826.8" font-size="11" fill="#0f0f0f">−100.00%</text>
</svg>
<div class="abs" style="left:17px;top:874px;width:1781px;height:40px;background:#f9f9f9"></div>
<div class="t " style="top:883.60px;font-size:14px;color:#0f0f0f;font-weight:700;left:33.00px;">Returns</div>
<div class="t " style="top:924.00px;font-size:14px;color:#707070;left:33.00px;">Metric</div>
<div class="t " style="top:924.00px;font-size:14px;color:#707070;right:1098.00px;">All</div>
<div class="t " style="top:924.00px;font-size:14px;color:#707070;right:741.50px;">Long</div>
<div class="t " style="top:924.00px;font-size:14px;color:#707070;right:385.50px;">Short</div>
<div class="sep" style="left:17px;top:955px;width:1781px"></div>
<div class="t " style="top:974.00px;font-size:14px;color:#0f0f0f;left:33.00px;">Initial capital</div>
<div class="t " style="top:971.60px;font-size:14px;color:#0f0f0f;right:1098.00px;">100,000.00<span style="font-size:10px;margin-left:3px">USD</span></div>
<div class="sep" style="left:17px;top:1012px;width:1781px"></div>
<div class="t " style="top:1031.00px;font-size:14px;color:#0f0f0f;left:33.00px;">Open P&amp;L</div>
<div class="t " style="top:1019.80px;font-size:14px;color:#cc2f3c;right:1098.00px;">−642.17<span style="font-size:10px;margin-left:3px">USD</span></div>
</body></html>
